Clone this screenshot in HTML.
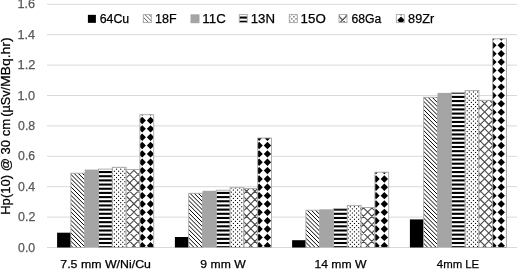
<!DOCTYPE html>
<html><head><meta charset="utf-8"><style>
html,body{margin:0;padding:0;background:#fff;width:517px;height:270px;overflow:hidden}
svg{display:block;filter:grayscale(100%)}
text{font-family:"Liberation Sans", sans-serif}
</style></head><body>
<svg width="517" height="270" viewBox="0 0 517 270" font-family="Liberation Sans, sans-serif">
<rect width="517" height="270" fill="#fff"/>
<line x1="47" x2="517" y1="247.50" y2="247.50" stroke="#d9d9d9" stroke-width="1"/><line x1="47" x2="517" y1="217.10" y2="217.10" stroke="#d9d9d9" stroke-width="1"/><line x1="47" x2="517" y1="186.70" y2="186.70" stroke="#d9d9d9" stroke-width="1"/><line x1="47" x2="517" y1="156.30" y2="156.30" stroke="#d9d9d9" stroke-width="1"/><line x1="47" x2="517" y1="125.90" y2="125.90" stroke="#d9d9d9" stroke-width="1"/><line x1="47" x2="517" y1="95.50" y2="95.50" stroke="#d9d9d9" stroke-width="1"/><line x1="47" x2="517" y1="65.10" y2="65.10" stroke="#d9d9d9" stroke-width="1"/><line x1="47" x2="517" y1="34.70" y2="34.70" stroke="#d9d9d9" stroke-width="1"/><line x1="47" x2="517" y1="4.30" y2="4.30" stroke="#d9d9d9" stroke-width="1"/>
<rect x="57.10" y="232.70" width="13.80" height="14.80" fill="#000000"/><clipPath id="c1"><rect x="70.90" y="173.20" width="13.80" height="74.30"/></clipPath><rect x="70.90" y="173.20" width="13.80" height="74.30" fill="#fff"/><g clip-path="url(#c1)" fill="#000"><path d="M-11.60 171.20L66.69 249.50M-7.43 171.20L70.86 249.50M-3.25 171.20L75.04 249.50M0.91 171.20L79.21 249.50M5.09 171.20L83.39 249.50M9.26 171.20L87.56 249.50M13.44 171.20L91.74 249.50M17.61 171.20L95.91 249.50M21.79 171.20L100.09 249.50M25.96 171.20L104.26 249.50M30.14 171.20L108.44 249.50M34.31 171.20L112.61 249.50M38.49 171.20L116.79 249.50M42.66 171.20L120.96 249.50M46.84 171.20L125.14 249.50M51.01 171.20L129.31 249.50M55.19 171.20L133.49 249.50M59.36 171.20L137.66 249.50M63.54 171.20L141.84 249.50M67.71 171.20L146.01 249.50M71.89 171.20L150.19 249.50M76.06 171.20L154.36 249.50M80.24 171.20L158.54 249.50M84.41 171.20L162.71 249.50M88.59 171.20L166.89 249.50" stroke="#000" stroke-width="1.00" fill="none"/></g><rect x="70.90" y="173.20" width="13.80" height="74.30" fill="none" stroke="#a6a6a6" stroke-width="0.9"/><rect x="84.70" y="169.60" width="13.80" height="77.90" fill="#a5a5a5"/><clipPath id="c2"><rect x="98.50" y="169.10" width="13.80" height="78.40"/></clipPath><rect x="98.50" y="169.10" width="13.80" height="78.40" fill="#fff"/><g clip-path="url(#c2)" fill="#000"><rect x="98.50" y="162.66" width="13.80" height="2.08"/><rect x="98.50" y="166.83" width="13.80" height="2.08"/><rect x="98.50" y="171.01" width="13.80" height="2.08"/><rect x="98.50" y="175.18" width="13.80" height="2.08"/><rect x="98.50" y="179.36" width="13.80" height="2.08"/><rect x="98.50" y="183.53" width="13.80" height="2.08"/><rect x="98.50" y="187.71" width="13.80" height="2.08"/><rect x="98.50" y="191.88" width="13.80" height="2.08"/><rect x="98.50" y="196.06" width="13.80" height="2.08"/><rect x="98.50" y="200.23" width="13.80" height="2.08"/><rect x="98.50" y="204.41" width="13.80" height="2.08"/><rect x="98.50" y="208.58" width="13.80" height="2.08"/><rect x="98.50" y="212.76" width="13.80" height="2.08"/><rect x="98.50" y="216.93" width="13.80" height="2.08"/><rect x="98.50" y="221.11" width="13.80" height="2.08"/><rect x="98.50" y="225.28" width="13.80" height="2.08"/><rect x="98.50" y="229.46" width="13.80" height="2.08"/><rect x="98.50" y="233.63" width="13.80" height="2.08"/><rect x="98.50" y="237.81" width="13.80" height="2.08"/><rect x="98.50" y="241.98" width="13.80" height="2.08"/><rect x="98.50" y="246.16" width="13.80" height="2.08"/><rect x="98.50" y="250.33" width="13.80" height="2.08"/></g><rect x="98.50" y="169.10" width="13.80" height="78.40" fill="none" stroke="#a6a6a6" stroke-width="0.9"/><clipPath id="c3"><rect x="112.30" y="167.30" width="13.80" height="80.20"/></clipPath><rect x="112.30" y="167.30" width="13.80" height="80.20" fill="#fff"/><g clip-path="url(#c3)" fill="#000"><rect x="107.60" y="160.30" width="1.10" height="1.10"/><rect x="109.68" y="162.38" width="1.10" height="1.10"/><rect x="111.77" y="160.30" width="1.10" height="1.10"/><rect x="113.86" y="162.38" width="1.10" height="1.10"/><rect x="115.95" y="160.30" width="1.10" height="1.10"/><rect x="118.03" y="162.38" width="1.10" height="1.10"/><rect x="120.12" y="160.30" width="1.10" height="1.10"/><rect x="122.21" y="162.38" width="1.10" height="1.10"/><rect x="124.30" y="160.30" width="1.10" height="1.10"/><rect x="126.38" y="162.38" width="1.10" height="1.10"/><rect x="128.47" y="160.30" width="1.10" height="1.10"/><rect x="130.56" y="162.38" width="1.10" height="1.10"/><rect x="107.60" y="164.47" width="1.10" height="1.10"/><rect x="109.68" y="166.56" width="1.10" height="1.10"/><rect x="111.77" y="164.47" width="1.10" height="1.10"/><rect x="113.86" y="166.56" width="1.10" height="1.10"/><rect x="115.95" y="164.47" width="1.10" height="1.10"/><rect x="118.03" y="166.56" width="1.10" height="1.10"/><rect x="120.12" y="164.47" width="1.10" height="1.10"/><rect x="122.21" y="166.56" width="1.10" height="1.10"/><rect x="124.30" y="164.47" width="1.10" height="1.10"/><rect x="126.38" y="166.56" width="1.10" height="1.10"/><rect x="128.47" y="164.47" width="1.10" height="1.10"/><rect x="130.56" y="166.56" width="1.10" height="1.10"/><rect x="107.60" y="168.65" width="1.10" height="1.10"/><rect x="109.68" y="170.73" width="1.10" height="1.10"/><rect x="111.77" y="168.65" width="1.10" height="1.10"/><rect x="113.86" y="170.73" width="1.10" height="1.10"/><rect x="115.95" y="168.65" width="1.10" height="1.10"/><rect x="118.03" y="170.73" width="1.10" height="1.10"/><rect x="120.12" y="168.65" width="1.10" height="1.10"/><rect x="122.21" y="170.73" width="1.10" height="1.10"/><rect x="124.30" y="168.65" width="1.10" height="1.10"/><rect x="126.38" y="170.73" width="1.10" height="1.10"/><rect x="128.47" y="168.65" width="1.10" height="1.10"/><rect x="130.56" y="170.73" width="1.10" height="1.10"/><rect x="107.60" y="172.82" width="1.10" height="1.10"/><rect x="109.68" y="174.91" width="1.10" height="1.10"/><rect x="111.77" y="172.82" width="1.10" height="1.10"/><rect x="113.86" y="174.91" width="1.10" height="1.10"/><rect x="115.95" y="172.82" width="1.10" height="1.10"/><rect x="118.03" y="174.91" width="1.10" height="1.10"/><rect x="120.12" y="172.82" width="1.10" height="1.10"/><rect x="122.21" y="174.91" width="1.10" height="1.10"/><rect x="124.30" y="172.82" width="1.10" height="1.10"/><rect x="126.38" y="174.91" width="1.10" height="1.10"/><rect x="128.47" y="172.82" width="1.10" height="1.10"/><rect x="130.56" y="174.91" width="1.10" height="1.10"/><rect x="107.60" y="177.00" width="1.10" height="1.10"/><rect x="109.68" y="179.08" width="1.10" height="1.10"/><rect x="111.77" y="177.00" width="1.10" height="1.10"/><rect x="113.86" y="179.08" width="1.10" height="1.10"/><rect x="115.95" y="177.00" width="1.10" height="1.10"/><rect x="118.03" y="179.08" width="1.10" height="1.10"/><rect x="120.12" y="177.00" width="1.10" height="1.10"/><rect x="122.21" y="179.08" width="1.10" height="1.10"/><rect x="124.30" y="177.00" width="1.10" height="1.10"/><rect x="126.38" y="179.08" width="1.10" height="1.10"/><rect x="128.47" y="177.00" width="1.10" height="1.10"/><rect x="130.56" y="179.08" width="1.10" height="1.10"/><rect x="107.60" y="181.17" width="1.10" height="1.10"/><rect x="109.68" y="183.26" width="1.10" height="1.10"/><rect x="111.77" y="181.17" width="1.10" height="1.10"/><rect x="113.86" y="183.26" width="1.10" height="1.10"/><rect x="115.95" y="181.17" width="1.10" height="1.10"/><rect x="118.03" y="183.26" width="1.10" height="1.10"/><rect x="120.12" y="181.17" width="1.10" height="1.10"/><rect x="122.21" y="183.26" width="1.10" height="1.10"/><rect x="124.30" y="181.17" width="1.10" height="1.10"/><rect x="126.38" y="183.26" width="1.10" height="1.10"/><rect x="128.47" y="181.17" width="1.10" height="1.10"/><rect x="130.56" y="183.26" width="1.10" height="1.10"/><rect x="107.60" y="185.35" width="1.10" height="1.10"/><rect x="109.68" y="187.43" width="1.10" height="1.10"/><rect x="111.77" y="185.35" width="1.10" height="1.10"/><rect x="113.86" y="187.43" width="1.10" height="1.10"/><rect x="115.95" y="185.35" width="1.10" height="1.10"/><rect x="118.03" y="187.43" width="1.10" height="1.10"/><rect x="120.12" y="185.35" width="1.10" height="1.10"/><rect x="122.21" y="187.43" width="1.10" height="1.10"/><rect x="124.30" y="185.35" width="1.10" height="1.10"/><rect x="126.38" y="187.43" width="1.10" height="1.10"/><rect x="128.47" y="185.35" width="1.10" height="1.10"/><rect x="130.56" y="187.43" width="1.10" height="1.10"/><rect x="107.60" y="189.52" width="1.10" height="1.10"/><rect x="109.68" y="191.61" width="1.10" height="1.10"/><rect x="111.77" y="189.52" width="1.10" height="1.10"/><rect x="113.86" y="191.61" width="1.10" height="1.10"/><rect x="115.95" y="189.52" width="1.10" height="1.10"/><rect x="118.03" y="191.61" width="1.10" height="1.10"/><rect x="120.12" y="189.52" width="1.10" height="1.10"/><rect x="122.21" y="191.61" width="1.10" height="1.10"/><rect x="124.30" y="189.52" width="1.10" height="1.10"/><rect x="126.38" y="191.61" width="1.10" height="1.10"/><rect x="128.47" y="189.52" width="1.10" height="1.10"/><rect x="130.56" y="191.61" width="1.10" height="1.10"/><rect x="107.60" y="193.70" width="1.10" height="1.10"/><rect x="109.68" y="195.78" width="1.10" height="1.10"/><rect x="111.77" y="193.70" width="1.10" height="1.10"/><rect x="113.86" y="195.78" width="1.10" height="1.10"/><rect x="115.95" y="193.70" width="1.10" height="1.10"/><rect x="118.03" y="195.78" width="1.10" height="1.10"/><rect x="120.12" y="193.70" width="1.10" height="1.10"/><rect x="122.21" y="195.78" width="1.10" height="1.10"/><rect x="124.30" y="193.70" width="1.10" height="1.10"/><rect x="126.38" y="195.78" width="1.10" height="1.10"/><rect x="128.47" y="193.70" width="1.10" height="1.10"/><rect x="130.56" y="195.78" width="1.10" height="1.10"/><rect x="107.60" y="197.87" width="1.10" height="1.10"/><rect x="109.68" y="199.96" width="1.10" height="1.10"/><rect x="111.77" y="197.87" width="1.10" height="1.10"/><rect x="113.86" y="199.96" width="1.10" height="1.10"/><rect x="115.95" y="197.87" width="1.10" height="1.10"/><rect x="118.03" y="199.96" width="1.10" height="1.10"/><rect x="120.12" y="197.87" width="1.10" height="1.10"/><rect x="122.21" y="199.96" width="1.10" height="1.10"/><rect x="124.30" y="197.87" width="1.10" height="1.10"/><rect x="126.38" y="199.96" width="1.10" height="1.10"/><rect x="128.47" y="197.87" width="1.10" height="1.10"/><rect x="130.56" y="199.96" width="1.10" height="1.10"/><rect x="107.60" y="202.05" width="1.10" height="1.10"/><rect x="109.68" y="204.13" width="1.10" height="1.10"/><rect x="111.77" y="202.05" width="1.10" height="1.10"/><rect x="113.86" y="204.13" width="1.10" height="1.10"/><rect x="115.95" y="202.05" width="1.10" height="1.10"/><rect x="118.03" y="204.13" width="1.10" height="1.10"/><rect x="120.12" y="202.05" width="1.10" height="1.10"/><rect x="122.21" y="204.13" width="1.10" height="1.10"/><rect x="124.30" y="202.05" width="1.10" height="1.10"/><rect x="126.38" y="204.13" width="1.10" height="1.10"/><rect x="128.47" y="202.05" width="1.10" height="1.10"/><rect x="130.56" y="204.13" width="1.10" height="1.10"/><rect x="107.60" y="206.22" width="1.10" height="1.10"/><rect x="109.68" y="208.31" width="1.10" height="1.10"/><rect x="111.77" y="206.22" width="1.10" height="1.10"/><rect x="113.86" y="208.31" width="1.10" height="1.10"/><rect x="115.95" y="206.22" width="1.10" height="1.10"/><rect x="118.03" y="208.31" width="1.10" height="1.10"/><rect x="120.12" y="206.22" width="1.10" height="1.10"/><rect x="122.21" y="208.31" width="1.10" height="1.10"/><rect x="124.30" y="206.22" width="1.10" height="1.10"/><rect x="126.38" y="208.31" width="1.10" height="1.10"/><rect x="128.47" y="206.22" width="1.10" height="1.10"/><rect x="130.56" y="208.31" width="1.10" height="1.10"/><rect x="107.60" y="210.40" width="1.10" height="1.10"/><rect x="109.68" y="212.48" width="1.10" height="1.10"/><rect x="111.77" y="210.40" width="1.10" height="1.10"/><rect x="113.86" y="212.48" width="1.10" height="1.10"/><rect x="115.95" y="210.40" width="1.10" height="1.10"/><rect x="118.03" y="212.48" width="1.10" height="1.10"/><rect x="120.12" y="210.40" width="1.10" height="1.10"/><rect x="122.21" y="212.48" width="1.10" height="1.10"/><rect x="124.30" y="210.40" width="1.10" height="1.10"/><rect x="126.38" y="212.48" width="1.10" height="1.10"/><rect x="128.47" y="210.40" width="1.10" height="1.10"/><rect x="130.56" y="212.48" width="1.10" height="1.10"/><rect x="107.60" y="214.57" width="1.10" height="1.10"/><rect x="109.68" y="216.66" width="1.10" height="1.10"/><rect x="111.77" y="214.57" width="1.10" height="1.10"/><rect x="113.86" y="216.66" width="1.10" height="1.10"/><rect x="115.95" y="214.57" width="1.10" height="1.10"/><rect x="118.03" y="216.66" width="1.10" height="1.10"/><rect x="120.12" y="214.57" width="1.10" height="1.10"/><rect x="122.21" y="216.66" width="1.10" height="1.10"/><rect x="124.30" y="214.57" width="1.10" height="1.10"/><rect x="126.38" y="216.66" width="1.10" height="1.10"/><rect x="128.47" y="214.57" width="1.10" height="1.10"/><rect x="130.56" y="216.66" width="1.10" height="1.10"/><rect x="107.60" y="218.75" width="1.10" height="1.10"/><rect x="109.68" y="220.83" width="1.10" height="1.10"/><rect x="111.77" y="218.75" width="1.10" height="1.10"/><rect x="113.86" y="220.83" width="1.10" height="1.10"/><rect x="115.95" y="218.75" width="1.10" height="1.10"/><rect x="118.03" y="220.83" width="1.10" height="1.10"/><rect x="120.12" y="218.75" width="1.10" height="1.10"/><rect x="122.21" y="220.83" width="1.10" height="1.10"/><rect x="124.30" y="218.75" width="1.10" height="1.10"/><rect x="126.38" y="220.83" width="1.10" height="1.10"/><rect x="128.47" y="218.75" width="1.10" height="1.10"/><rect x="130.56" y="220.83" width="1.10" height="1.10"/><rect x="107.60" y="222.92" width="1.10" height="1.10"/><rect x="109.68" y="225.01" width="1.10" height="1.10"/><rect x="111.77" y="222.92" width="1.10" height="1.10"/><rect x="113.86" y="225.01" width="1.10" height="1.10"/><rect x="115.95" y="222.92" width="1.10" height="1.10"/><rect x="118.03" y="225.01" width="1.10" height="1.10"/><rect x="120.12" y="222.92" width="1.10" height="1.10"/><rect x="122.21" y="225.01" width="1.10" height="1.10"/><rect x="124.30" y="222.92" width="1.10" height="1.10"/><rect x="126.38" y="225.01" width="1.10" height="1.10"/><rect x="128.47" y="222.92" width="1.10" height="1.10"/><rect x="130.56" y="225.01" width="1.10" height="1.10"/><rect x="107.60" y="227.10" width="1.10" height="1.10"/><rect x="109.68" y="229.18" width="1.10" height="1.10"/><rect x="111.77" y="227.10" width="1.10" height="1.10"/><rect x="113.86" y="229.18" width="1.10" height="1.10"/><rect x="115.95" y="227.10" width="1.10" height="1.10"/><rect x="118.03" y="229.18" width="1.10" height="1.10"/><rect x="120.12" y="227.10" width="1.10" height="1.10"/><rect x="122.21" y="229.18" width="1.10" height="1.10"/><rect x="124.30" y="227.10" width="1.10" height="1.10"/><rect x="126.38" y="229.18" width="1.10" height="1.10"/><rect x="128.47" y="227.10" width="1.10" height="1.10"/><rect x="130.56" y="229.18" width="1.10" height="1.10"/><rect x="107.60" y="231.27" width="1.10" height="1.10"/><rect x="109.68" y="233.36" width="1.10" height="1.10"/><rect x="111.77" y="231.27" width="1.10" height="1.10"/><rect x="113.86" y="233.36" width="1.10" height="1.10"/><rect x="115.95" y="231.27" width="1.10" height="1.10"/><rect x="118.03" y="233.36" width="1.10" height="1.10"/><rect x="120.12" y="231.27" width="1.10" height="1.10"/><rect x="122.21" y="233.36" width="1.10" height="1.10"/><rect x="124.30" y="231.27" width="1.10" height="1.10"/><rect x="126.38" y="233.36" width="1.10" height="1.10"/><rect x="128.47" y="231.27" width="1.10" height="1.10"/><rect x="130.56" y="233.36" width="1.10" height="1.10"/><rect x="107.60" y="235.45" width="1.10" height="1.10"/><rect x="109.68" y="237.53" width="1.10" height="1.10"/><rect x="111.77" y="235.45" width="1.10" height="1.10"/><rect x="113.86" y="237.53" width="1.10" height="1.10"/><rect x="115.95" y="235.45" width="1.10" height="1.10"/><rect x="118.03" y="237.53" width="1.10" height="1.10"/><rect x="120.12" y="235.45" width="1.10" height="1.10"/><rect x="122.21" y="237.53" width="1.10" height="1.10"/><rect x="124.30" y="235.45" width="1.10" height="1.10"/><rect x="126.38" y="237.53" width="1.10" height="1.10"/><rect x="128.47" y="235.45" width="1.10" height="1.10"/><rect x="130.56" y="237.53" width="1.10" height="1.10"/><rect x="107.60" y="239.62" width="1.10" height="1.10"/><rect x="109.68" y="241.71" width="1.10" height="1.10"/><rect x="111.77" y="239.62" width="1.10" height="1.10"/><rect x="113.86" y="241.71" width="1.10" height="1.10"/><rect x="115.95" y="239.62" width="1.10" height="1.10"/><rect x="118.03" y="241.71" width="1.10" height="1.10"/><rect x="120.12" y="239.62" width="1.10" height="1.10"/><rect x="122.21" y="241.71" width="1.10" height="1.10"/><rect x="124.30" y="239.62" width="1.10" height="1.10"/><rect x="126.38" y="241.71" width="1.10" height="1.10"/><rect x="128.47" y="239.62" width="1.10" height="1.10"/><rect x="130.56" y="241.71" width="1.10" height="1.10"/><rect x="107.60" y="243.80" width="1.10" height="1.10"/><rect x="109.68" y="245.88" width="1.10" height="1.10"/><rect x="111.77" y="243.80" width="1.10" height="1.10"/><rect x="113.86" y="245.88" width="1.10" height="1.10"/><rect x="115.95" y="243.80" width="1.10" height="1.10"/><rect x="118.03" y="245.88" width="1.10" height="1.10"/><rect x="120.12" y="243.80" width="1.10" height="1.10"/><rect x="122.21" y="245.88" width="1.10" height="1.10"/><rect x="124.30" y="243.80" width="1.10" height="1.10"/><rect x="126.38" y="245.88" width="1.10" height="1.10"/><rect x="128.47" y="243.80" width="1.10" height="1.10"/><rect x="130.56" y="245.88" width="1.10" height="1.10"/><rect x="107.60" y="247.97" width="1.10" height="1.10"/><rect x="109.68" y="250.06" width="1.10" height="1.10"/><rect x="111.77" y="247.97" width="1.10" height="1.10"/><rect x="113.86" y="250.06" width="1.10" height="1.10"/><rect x="115.95" y="247.97" width="1.10" height="1.10"/><rect x="118.03" y="250.06" width="1.10" height="1.10"/><rect x="120.12" y="247.97" width="1.10" height="1.10"/><rect x="122.21" y="250.06" width="1.10" height="1.10"/><rect x="124.30" y="247.97" width="1.10" height="1.10"/><rect x="126.38" y="250.06" width="1.10" height="1.10"/><rect x="128.47" y="247.97" width="1.10" height="1.10"/><rect x="130.56" y="250.06" width="1.10" height="1.10"/></g><rect x="112.30" y="167.30" width="13.80" height="80.20" fill="none" stroke="#a6a6a6" stroke-width="0.9"/><clipPath id="c4"><rect x="126.10" y="169.50" width="13.80" height="78.00"/></clipPath><rect x="126.10" y="169.50" width="13.80" height="78.00" fill="#fff"/><g clip-path="url(#c4)" fill="#000"><path d="M30.85 167.50L112.85 249.50M39.20 167.50L121.20 249.50M47.55 167.50L129.55 249.50M55.90 167.50L137.90 249.50M64.25 167.50L146.25 249.50M72.60 167.50L154.60 249.50M80.95 167.50L162.95 249.50M89.30 167.50L171.30 249.50M97.65 167.50L179.65 249.50M106.00 167.50L188.00 249.50M114.35 167.50L196.35 249.50M122.70 167.50L204.70 249.50M131.05 167.50L213.05 249.50M139.40 167.50L221.40 249.50M147.75 167.50L229.75 249.50M156.10 167.50L238.10 249.50M111.65 167.50L29.65 249.50M120.00 167.50L38.00 249.50M128.35 167.50L46.35 249.50M136.70 167.50L54.70 249.50M145.05 167.50L63.05 249.50M153.40 167.50L71.40 249.50M161.75 167.50L79.75 249.50M170.10 167.50L88.10 249.50M178.45 167.50L96.45 249.50M186.80 167.50L104.80 249.50M195.15 167.50L113.15 249.50M203.50 167.50L121.50 249.50M211.85 167.50L129.85 249.50M220.20 167.50L138.20 249.50M228.55 167.50L146.55 249.50M236.90 167.50L154.90 249.50" stroke="#4a4a4a" stroke-width="1.1" fill="none"/></g><rect x="126.10" y="169.50" width="13.80" height="78.00" fill="none" stroke="#a6a6a6" stroke-width="0.9"/><clipPath id="c5"><rect x="139.90" y="114.70" width="13.80" height="132.80"/></clipPath><rect x="139.90" y="114.70" width="13.80" height="132.80" fill="#fff"/><g clip-path="url(#c5)" fill="#000"><path d="M125.50 100.10L129.19 103.80L125.50 107.49L121.80 103.80ZM133.85 100.10L137.54 103.80L133.85 107.49L130.15 103.80ZM142.20 100.10L145.89 103.80L142.20 107.49L138.50 103.80ZM150.55 100.10L154.24 103.80L150.55 107.49L146.85 103.80ZM158.90 100.10L162.59 103.80L158.90 107.49L155.20 103.80ZM167.25 100.10L170.94 103.80L167.25 107.49L163.55 103.80ZM125.50 108.45L129.19 112.15L125.50 115.84L121.80 112.15ZM133.85 108.45L137.54 112.15L133.85 115.84L130.15 112.15ZM142.20 108.45L145.89 112.15L142.20 115.84L138.50 112.15ZM150.55 108.45L154.24 112.15L150.55 115.84L146.85 112.15ZM158.90 108.45L162.59 112.15L158.90 115.84L155.20 112.15ZM167.25 108.45L170.94 112.15L167.25 115.84L163.55 112.15ZM125.50 116.80L129.19 120.50L125.50 124.19L121.80 120.50ZM133.85 116.80L137.54 120.50L133.85 124.19L130.15 120.50ZM142.20 116.80L145.89 120.50L142.20 124.19L138.50 120.50ZM150.55 116.80L154.24 120.50L150.55 124.19L146.85 120.50ZM158.90 116.80L162.59 120.50L158.90 124.19L155.20 120.50ZM167.25 116.80L170.94 120.50L167.25 124.19L163.55 120.50ZM125.50 125.15L129.19 128.85L125.50 132.54L121.80 128.85ZM133.85 125.15L137.54 128.85L133.85 132.54L130.15 128.85ZM142.20 125.15L145.89 128.85L142.20 132.54L138.50 128.85ZM150.55 125.15L154.24 128.85L150.55 132.54L146.85 128.85ZM158.90 125.15L162.59 128.85L158.90 132.54L155.20 128.85ZM167.25 125.15L170.94 128.85L167.25 132.54L163.55 128.85ZM125.50 133.50L129.19 137.20L125.50 140.89L121.80 137.20ZM133.85 133.50L137.54 137.20L133.85 140.89L130.15 137.20ZM142.20 133.50L145.89 137.20L142.20 140.89L138.50 137.20ZM150.55 133.50L154.24 137.20L150.55 140.89L146.85 137.20ZM158.90 133.50L162.59 137.20L158.90 140.89L155.20 137.20ZM167.25 133.50L170.94 137.20L167.25 140.89L163.55 137.20ZM125.50 141.85L129.19 145.55L125.50 149.24L121.80 145.55ZM133.85 141.85L137.54 145.55L133.85 149.24L130.15 145.55ZM142.20 141.85L145.89 145.55L142.20 149.24L138.50 145.55ZM150.55 141.85L154.24 145.55L150.55 149.24L146.85 145.55ZM158.90 141.85L162.59 145.55L158.90 149.24L155.20 145.55ZM167.25 141.85L170.94 145.55L167.25 149.24L163.55 145.55ZM125.50 150.20L129.19 153.90L125.50 157.59L121.80 153.90ZM133.85 150.20L137.54 153.90L133.85 157.59L130.15 153.90ZM142.20 150.20L145.89 153.90L142.20 157.59L138.50 153.90ZM150.55 150.20L154.24 153.90L150.55 157.59L146.85 153.90ZM158.90 150.20L162.59 153.90L158.90 157.59L155.20 153.90ZM167.25 150.20L170.94 153.90L167.25 157.59L163.55 153.90ZM125.50 158.55L129.19 162.25L125.50 165.94L121.80 162.25ZM133.85 158.55L137.54 162.25L133.85 165.94L130.15 162.25ZM142.20 158.55L145.89 162.25L142.20 165.94L138.50 162.25ZM150.55 158.55L154.24 162.25L150.55 165.94L146.85 162.25ZM158.90 158.55L162.59 162.25L158.90 165.94L155.20 162.25ZM167.25 158.55L170.94 162.25L167.25 165.94L163.55 162.25ZM125.50 166.90L129.19 170.60L125.50 174.29L121.80 170.60ZM133.85 166.90L137.54 170.60L133.85 174.29L130.15 170.60ZM142.20 166.90L145.89 170.60L142.20 174.29L138.50 170.60ZM150.55 166.90L154.24 170.60L150.55 174.29L146.85 170.60ZM158.90 166.90L162.59 170.60L158.90 174.29L155.20 170.60ZM167.25 166.90L170.94 170.60L167.25 174.29L163.55 170.60ZM125.50 175.25L129.19 178.95L125.50 182.64L121.80 178.95ZM133.85 175.25L137.54 178.95L133.85 182.64L130.15 178.95ZM142.20 175.25L145.89 178.95L142.20 182.64L138.50 178.95ZM150.55 175.25L154.24 178.95L150.55 182.64L146.85 178.95ZM158.90 175.25L162.59 178.95L158.90 182.64L155.20 178.95ZM167.25 175.25L170.94 178.95L167.25 182.64L163.55 178.95ZM125.50 183.60L129.19 187.30L125.50 190.99L121.80 187.30ZM133.85 183.60L137.54 187.30L133.85 190.99L130.15 187.30ZM142.20 183.60L145.89 187.30L142.20 190.99L138.50 187.30ZM150.55 183.60L154.24 187.30L150.55 190.99L146.85 187.30ZM158.90 183.60L162.59 187.30L158.90 190.99L155.20 187.30ZM167.25 183.60L170.94 187.30L167.25 190.99L163.55 187.30ZM125.50 191.95L129.19 195.65L125.50 199.34L121.80 195.65ZM133.85 191.95L137.54 195.65L133.85 199.34L130.15 195.65ZM142.20 191.95L145.89 195.65L142.20 199.34L138.50 195.65ZM150.55 191.95L154.24 195.65L150.55 199.34L146.85 195.65ZM158.90 191.95L162.59 195.65L158.90 199.34L155.20 195.65ZM167.25 191.95L170.94 195.65L167.25 199.34L163.55 195.65ZM125.50 200.30L129.19 204.00L125.50 207.69L121.80 204.00ZM133.85 200.30L137.54 204.00L133.85 207.69L130.15 204.00ZM142.20 200.30L145.89 204.00L142.20 207.69L138.50 204.00ZM150.55 200.30L154.24 204.00L150.55 207.69L146.85 204.00ZM158.90 200.30L162.59 204.00L158.90 207.69L155.20 204.00ZM167.25 200.30L170.94 204.00L167.25 207.69L163.55 204.00ZM125.50 208.65L129.19 212.35L125.50 216.04L121.80 212.35ZM133.85 208.65L137.54 212.35L133.85 216.04L130.15 212.35ZM142.20 208.65L145.89 212.35L142.20 216.04L138.50 212.35ZM150.55 208.65L154.24 212.35L150.55 216.04L146.85 212.35ZM158.90 208.65L162.59 212.35L158.90 216.04L155.20 212.35ZM167.25 208.65L170.94 212.35L167.25 216.04L163.55 212.35ZM125.50 217.00L129.19 220.70L125.50 224.39L121.80 220.70ZM133.85 217.00L137.54 220.70L133.85 224.39L130.15 220.70ZM142.20 217.00L145.89 220.70L142.20 224.39L138.50 220.70ZM150.55 217.00L154.24 220.70L150.55 224.39L146.85 220.70ZM158.90 217.00L162.59 220.70L158.90 224.39L155.20 220.70ZM167.25 217.00L170.94 220.70L167.25 224.39L163.55 220.70ZM125.50 225.35L129.19 229.05L125.50 232.74L121.80 229.05ZM133.85 225.35L137.54 229.05L133.85 232.74L130.15 229.05ZM142.20 225.35L145.89 229.05L142.20 232.74L138.50 229.05ZM150.55 225.35L154.24 229.05L150.55 232.74L146.85 229.05ZM158.90 225.35L162.59 229.05L158.90 232.74L155.20 229.05ZM167.25 225.35L170.94 229.05L167.25 232.74L163.55 229.05ZM125.50 233.70L129.19 237.40L125.50 241.09L121.80 237.40ZM133.85 233.70L137.54 237.40L133.85 241.09L130.15 237.40ZM142.20 233.70L145.89 237.40L142.20 241.09L138.50 237.40ZM150.55 233.70L154.24 237.40L150.55 241.09L146.85 237.40ZM158.90 233.70L162.59 237.40L158.90 241.09L155.20 237.40ZM167.25 233.70L170.94 237.40L167.25 241.09L163.55 237.40ZM125.50 242.05L129.19 245.75L125.50 249.44L121.80 245.75ZM133.85 242.05L137.54 245.75L133.85 249.44L130.15 245.75ZM142.20 242.05L145.89 245.75L142.20 249.44L138.50 245.75ZM150.55 242.05L154.24 245.75L150.55 249.44L146.85 245.75ZM158.90 242.05L162.59 245.75L158.90 249.44L155.20 245.75ZM167.25 242.05L170.94 245.75L167.25 249.44L163.55 245.75ZM125.50 250.40L129.19 254.10L125.50 257.79L121.80 254.10ZM133.85 250.40L137.54 254.10L133.85 257.79L130.15 254.10ZM142.20 250.40L145.89 254.10L142.20 257.79L138.50 254.10ZM150.55 250.40L154.24 254.10L150.55 257.79L146.85 254.10ZM158.90 250.40L162.59 254.10L158.90 257.79L155.20 254.10ZM167.25 250.40L170.94 254.10L167.25 257.79L163.55 254.10ZM125.50 258.75L129.19 262.45L125.50 266.14L121.80 262.45ZM133.85 258.75L137.54 262.45L133.85 266.14L130.15 262.45ZM142.20 258.75L145.89 262.45L142.20 266.14L138.50 262.45ZM150.55 258.75L154.24 262.45L150.55 266.14L146.85 262.45ZM158.90 258.75L162.59 262.45L158.90 266.14L155.20 262.45ZM167.25 258.75L170.94 262.45L167.25 266.14L163.55 262.45Z"/></g><rect x="139.90" y="114.70" width="13.80" height="132.80" fill="none" stroke="#a6a6a6" stroke-width="0.9"/><rect x="174.90" y="237.00" width="13.80" height="10.50" fill="#000000"/><clipPath id="c6"><rect x="188.70" y="193.30" width="13.80" height="54.20"/></clipPath><rect x="188.70" y="193.30" width="13.80" height="54.20" fill="#fff"/><g clip-path="url(#c6)" fill="#000"><path d="M125.39 191.30L183.59 249.50M129.56 191.30L187.76 249.50M133.74 191.30L191.94 249.50M137.91 191.30L196.11 249.50M142.09 191.30L200.29 249.50M146.26 191.30L204.46 249.50M150.44 191.30L208.64 249.50M154.61 191.30L212.81 249.50M158.79 191.30L216.99 249.50M162.96 191.30L221.16 249.50M167.14 191.30L225.34 249.50M171.31 191.30L229.51 249.50M175.49 191.30L233.69 249.50M179.66 191.30L237.86 249.50M183.84 191.30L242.04 249.50M188.01 191.30L246.21 249.50M192.19 191.30L250.39 249.50M196.36 191.30L254.56 249.50M200.54 191.30L258.74 249.50M204.71 191.30L262.91 249.50" stroke="#000" stroke-width="1.00" fill="none"/></g><rect x="188.70" y="193.30" width="13.80" height="54.20" fill="none" stroke="#a6a6a6" stroke-width="0.9"/><rect x="202.50" y="190.80" width="13.80" height="56.70" fill="#a5a5a5"/><clipPath id="c7"><rect x="216.30" y="190.20" width="13.80" height="57.30"/></clipPath><rect x="216.30" y="190.20" width="13.80" height="57.30" fill="#fff"/><g clip-path="url(#c7)" fill="#000"><rect x="216.30" y="183.53" width="13.80" height="2.08"/><rect x="216.30" y="187.71" width="13.80" height="2.08"/><rect x="216.30" y="191.88" width="13.80" height="2.08"/><rect x="216.30" y="196.06" width="13.80" height="2.08"/><rect x="216.30" y="200.23" width="13.80" height="2.08"/><rect x="216.30" y="204.41" width="13.80" height="2.08"/><rect x="216.30" y="208.58" width="13.80" height="2.08"/><rect x="216.30" y="212.76" width="13.80" height="2.08"/><rect x="216.30" y="216.93" width="13.80" height="2.08"/><rect x="216.30" y="221.11" width="13.80" height="2.08"/><rect x="216.30" y="225.28" width="13.80" height="2.08"/><rect x="216.30" y="229.46" width="13.80" height="2.08"/><rect x="216.30" y="233.63" width="13.80" height="2.08"/><rect x="216.30" y="237.81" width="13.80" height="2.08"/><rect x="216.30" y="241.98" width="13.80" height="2.08"/><rect x="216.30" y="246.16" width="13.80" height="2.08"/><rect x="216.30" y="250.33" width="13.80" height="2.08"/></g><rect x="216.30" y="190.20" width="13.80" height="57.30" fill="none" stroke="#a6a6a6" stroke-width="0.9"/><clipPath id="c8"><rect x="230.10" y="187.70" width="13.80" height="59.80"/></clipPath><rect x="230.10" y="187.70" width="13.80" height="59.80" fill="#fff"/><g clip-path="url(#c8)" fill="#000"><rect x="224.50" y="181.17" width="1.10" height="1.10"/><rect x="226.58" y="183.26" width="1.10" height="1.10"/><rect x="228.67" y="181.17" width="1.10" height="1.10"/><rect x="230.76" y="183.26" width="1.10" height="1.10"/><rect x="232.85" y="181.17" width="1.10" height="1.10"/><rect x="234.93" y="183.26" width="1.10" height="1.10"/><rect x="237.02" y="181.17" width="1.10" height="1.10"/><rect x="239.11" y="183.26" width="1.10" height="1.10"/><rect x="241.20" y="181.17" width="1.10" height="1.10"/><rect x="243.28" y="183.26" width="1.10" height="1.10"/><rect x="245.37" y="181.17" width="1.10" height="1.10"/><rect x="247.46" y="183.26" width="1.10" height="1.10"/><rect x="224.50" y="185.35" width="1.10" height="1.10"/><rect x="226.58" y="187.43" width="1.10" height="1.10"/><rect x="228.67" y="185.35" width="1.10" height="1.10"/><rect x="230.76" y="187.43" width="1.10" height="1.10"/><rect x="232.85" y="185.35" width="1.10" height="1.10"/><rect x="234.93" y="187.43" width="1.10" height="1.10"/><rect x="237.02" y="185.35" width="1.10" height="1.10"/><rect x="239.11" y="187.43" width="1.10" height="1.10"/><rect x="241.20" y="185.35" width="1.10" height="1.10"/><rect x="243.28" y="187.43" width="1.10" height="1.10"/><rect x="245.37" y="185.35" width="1.10" height="1.10"/><rect x="247.46" y="187.43" width="1.10" height="1.10"/><rect x="224.50" y="189.52" width="1.10" height="1.10"/><rect x="226.58" y="191.61" width="1.10" height="1.10"/><rect x="228.67" y="189.52" width="1.10" height="1.10"/><rect x="230.76" y="191.61" width="1.10" height="1.10"/><rect x="232.85" y="189.52" width="1.10" height="1.10"/><rect x="234.93" y="191.61" width="1.10" height="1.10"/><rect x="237.02" y="189.52" width="1.10" height="1.10"/><rect x="239.11" y="191.61" width="1.10" height="1.10"/><rect x="241.20" y="189.52" width="1.10" height="1.10"/><rect x="243.28" y="191.61" width="1.10" height="1.10"/><rect x="245.37" y="189.52" width="1.10" height="1.10"/><rect x="247.46" y="191.61" width="1.10" height="1.10"/><rect x="224.50" y="193.70" width="1.10" height="1.10"/><rect x="226.58" y="195.78" width="1.10" height="1.10"/><rect x="228.67" y="193.70" width="1.10" height="1.10"/><rect x="230.76" y="195.78" width="1.10" height="1.10"/><rect x="232.85" y="193.70" width="1.10" height="1.10"/><rect x="234.93" y="195.78" width="1.10" height="1.10"/><rect x="237.02" y="193.70" width="1.10" height="1.10"/><rect x="239.11" y="195.78" width="1.10" height="1.10"/><rect x="241.20" y="193.70" width="1.10" height="1.10"/><rect x="243.28" y="195.78" width="1.10" height="1.10"/><rect x="245.37" y="193.70" width="1.10" height="1.10"/><rect x="247.46" y="195.78" width="1.10" height="1.10"/><rect x="224.50" y="197.87" width="1.10" height="1.10"/><rect x="226.58" y="199.96" width="1.10" height="1.10"/><rect x="228.67" y="197.87" width="1.10" height="1.10"/><rect x="230.76" y="199.96" width="1.10" height="1.10"/><rect x="232.85" y="197.87" width="1.10" height="1.10"/><rect x="234.93" y="199.96" width="1.10" height="1.10"/><rect x="237.02" y="197.87" width="1.10" height="1.10"/><rect x="239.11" y="199.96" width="1.10" height="1.10"/><rect x="241.20" y="197.87" width="1.10" height="1.10"/><rect x="243.28" y="199.96" width="1.10" height="1.10"/><rect x="245.37" y="197.87" width="1.10" height="1.10"/><rect x="247.46" y="199.96" width="1.10" height="1.10"/><rect x="224.50" y="202.05" width="1.10" height="1.10"/><rect x="226.58" y="204.13" width="1.10" height="1.10"/><rect x="228.67" y="202.05" width="1.10" height="1.10"/><rect x="230.76" y="204.13" width="1.10" height="1.10"/><rect x="232.85" y="202.05" width="1.10" height="1.10"/><rect x="234.93" y="204.13" width="1.10" height="1.10"/><rect x="237.02" y="202.05" width="1.10" height="1.10"/><rect x="239.11" y="204.13" width="1.10" height="1.10"/><rect x="241.20" y="202.05" width="1.10" height="1.10"/><rect x="243.28" y="204.13" width="1.10" height="1.10"/><rect x="245.37" y="202.05" width="1.10" height="1.10"/><rect x="247.46" y="204.13" width="1.10" height="1.10"/><rect x="224.50" y="206.22" width="1.10" height="1.10"/><rect x="226.58" y="208.31" width="1.10" height="1.10"/><rect x="228.67" y="206.22" width="1.10" height="1.10"/><rect x="230.76" y="208.31" width="1.10" height="1.10"/><rect x="232.85" y="206.22" width="1.10" height="1.10"/><rect x="234.93" y="208.31" width="1.10" height="1.10"/><rect x="237.02" y="206.22" width="1.10" height="1.10"/><rect x="239.11" y="208.31" width="1.10" height="1.10"/><rect x="241.20" y="206.22" width="1.10" height="1.10"/><rect x="243.28" y="208.31" width="1.10" height="1.10"/><rect x="245.37" y="206.22" width="1.10" height="1.10"/><rect x="247.46" y="208.31" width="1.10" height="1.10"/><rect x="224.50" y="210.40" width="1.10" height="1.10"/><rect x="226.58" y="212.48" width="1.10" height="1.10"/><rect x="228.67" y="210.40" width="1.10" height="1.10"/><rect x="230.76" y="212.48" width="1.10" height="1.10"/><rect x="232.85" y="210.40" width="1.10" height="1.10"/><rect x="234.93" y="212.48" width="1.10" height="1.10"/><rect x="237.02" y="210.40" width="1.10" height="1.10"/><rect x="239.11" y="212.48" width="1.10" height="1.10"/><rect x="241.20" y="210.40" width="1.10" height="1.10"/><rect x="243.28" y="212.48" width="1.10" height="1.10"/><rect x="245.37" y="210.40" width="1.10" height="1.10"/><rect x="247.46" y="212.48" width="1.10" height="1.10"/><rect x="224.50" y="214.57" width="1.10" height="1.10"/><rect x="226.58" y="216.66" width="1.10" height="1.10"/><rect x="228.67" y="214.57" width="1.10" height="1.10"/><rect x="230.76" y="216.66" width="1.10" height="1.10"/><rect x="232.85" y="214.57" width="1.10" height="1.10"/><rect x="234.93" y="216.66" width="1.10" height="1.10"/><rect x="237.02" y="214.57" width="1.10" height="1.10"/><rect x="239.11" y="216.66" width="1.10" height="1.10"/><rect x="241.20" y="214.57" width="1.10" height="1.10"/><rect x="243.28" y="216.66" width="1.10" height="1.10"/><rect x="245.37" y="214.57" width="1.10" height="1.10"/><rect x="247.46" y="216.66" width="1.10" height="1.10"/><rect x="224.50" y="218.75" width="1.10" height="1.10"/><rect x="226.58" y="220.83" width="1.10" height="1.10"/><rect x="228.67" y="218.75" width="1.10" height="1.10"/><rect x="230.76" y="220.83" width="1.10" height="1.10"/><rect x="232.85" y="218.75" width="1.10" height="1.10"/><rect x="234.93" y="220.83" width="1.10" height="1.10"/><rect x="237.02" y="218.75" width="1.10" height="1.10"/><rect x="239.11" y="220.83" width="1.10" height="1.10"/><rect x="241.20" y="218.75" width="1.10" height="1.10"/><rect x="243.28" y="220.83" width="1.10" height="1.10"/><rect x="245.37" y="218.75" width="1.10" height="1.10"/><rect x="247.46" y="220.83" width="1.10" height="1.10"/><rect x="224.50" y="222.92" width="1.10" height="1.10"/><rect x="226.58" y="225.01" width="1.10" height="1.10"/><rect x="228.67" y="222.92" width="1.10" height="1.10"/><rect x="230.76" y="225.01" width="1.10" height="1.10"/><rect x="232.85" y="222.92" width="1.10" height="1.10"/><rect x="234.93" y="225.01" width="1.10" height="1.10"/><rect x="237.02" y="222.92" width="1.10" height="1.10"/><rect x="239.11" y="225.01" width="1.10" height="1.10"/><rect x="241.20" y="222.92" width="1.10" height="1.10"/><rect x="243.28" y="225.01" width="1.10" height="1.10"/><rect x="245.37" y="222.92" width="1.10" height="1.10"/><rect x="247.46" y="225.01" width="1.10" height="1.10"/><rect x="224.50" y="227.10" width="1.10" height="1.10"/><rect x="226.58" y="229.18" width="1.10" height="1.10"/><rect x="228.67" y="227.10" width="1.10" height="1.10"/><rect x="230.76" y="229.18" width="1.10" height="1.10"/><rect x="232.85" y="227.10" width="1.10" height="1.10"/><rect x="234.93" y="229.18" width="1.10" height="1.10"/><rect x="237.02" y="227.10" width="1.10" height="1.10"/><rect x="239.11" y="229.18" width="1.10" height="1.10"/><rect x="241.20" y="227.10" width="1.10" height="1.10"/><rect x="243.28" y="229.18" width="1.10" height="1.10"/><rect x="245.37" y="227.10" width="1.10" height="1.10"/><rect x="247.46" y="229.18" width="1.10" height="1.10"/><rect x="224.50" y="231.27" width="1.10" height="1.10"/><rect x="226.58" y="233.36" width="1.10" height="1.10"/><rect x="228.67" y="231.27" width="1.10" height="1.10"/><rect x="230.76" y="233.36" width="1.10" height="1.10"/><rect x="232.85" y="231.27" width="1.10" height="1.10"/><rect x="234.93" y="233.36" width="1.10" height="1.10"/><rect x="237.02" y="231.27" width="1.10" height="1.10"/><rect x="239.11" y="233.36" width="1.10" height="1.10"/><rect x="241.20" y="231.27" width="1.10" height="1.10"/><rect x="243.28" y="233.36" width="1.10" height="1.10"/><rect x="245.37" y="231.27" width="1.10" height="1.10"/><rect x="247.46" y="233.36" width="1.10" height="1.10"/><rect x="224.50" y="235.45" width="1.10" height="1.10"/><rect x="226.58" y="237.53" width="1.10" height="1.10"/><rect x="228.67" y="235.45" width="1.10" height="1.10"/><rect x="230.76" y="237.53" width="1.10" height="1.10"/><rect x="232.85" y="235.45" width="1.10" height="1.10"/><rect x="234.93" y="237.53" width="1.10" height="1.10"/><rect x="237.02" y="235.45" width="1.10" height="1.10"/><rect x="239.11" y="237.53" width="1.10" height="1.10"/><rect x="241.20" y="235.45" width="1.10" height="1.10"/><rect x="243.28" y="237.53" width="1.10" height="1.10"/><rect x="245.37" y="235.45" width="1.10" height="1.10"/><rect x="247.46" y="237.53" width="1.10" height="1.10"/><rect x="224.50" y="239.62" width="1.10" height="1.10"/><rect x="226.58" y="241.71" width="1.10" height="1.10"/><rect x="228.67" y="239.62" width="1.10" height="1.10"/><rect x="230.76" y="241.71" width="1.10" height="1.10"/><rect x="232.85" y="239.62" width="1.10" height="1.10"/><rect x="234.93" y="241.71" width="1.10" height="1.10"/><rect x="237.02" y="239.62" width="1.10" height="1.10"/><rect x="239.11" y="241.71" width="1.10" height="1.10"/><rect x="241.20" y="239.62" width="1.10" height="1.10"/><rect x="243.28" y="241.71" width="1.10" height="1.10"/><rect x="245.37" y="239.62" width="1.10" height="1.10"/><rect x="247.46" y="241.71" width="1.10" height="1.10"/><rect x="224.50" y="243.80" width="1.10" height="1.10"/><rect x="226.58" y="245.88" width="1.10" height="1.10"/><rect x="228.67" y="243.80" width="1.10" height="1.10"/><rect x="230.76" y="245.88" width="1.10" height="1.10"/><rect x="232.85" y="243.80" width="1.10" height="1.10"/><rect x="234.93" y="245.88" width="1.10" height="1.10"/><rect x="237.02" y="243.80" width="1.10" height="1.10"/><rect x="239.11" y="245.88" width="1.10" height="1.10"/><rect x="241.20" y="243.80" width="1.10" height="1.10"/><rect x="243.28" y="245.88" width="1.10" height="1.10"/><rect x="245.37" y="243.80" width="1.10" height="1.10"/><rect x="247.46" y="245.88" width="1.10" height="1.10"/><rect x="224.50" y="247.97" width="1.10" height="1.10"/><rect x="226.58" y="250.06" width="1.10" height="1.10"/><rect x="228.67" y="247.97" width="1.10" height="1.10"/><rect x="230.76" y="250.06" width="1.10" height="1.10"/><rect x="232.85" y="247.97" width="1.10" height="1.10"/><rect x="234.93" y="250.06" width="1.10" height="1.10"/><rect x="237.02" y="247.97" width="1.10" height="1.10"/><rect x="239.11" y="250.06" width="1.10" height="1.10"/><rect x="241.20" y="247.97" width="1.10" height="1.10"/><rect x="243.28" y="250.06" width="1.10" height="1.10"/><rect x="245.37" y="247.97" width="1.10" height="1.10"/><rect x="247.46" y="250.06" width="1.10" height="1.10"/></g><rect x="230.10" y="187.70" width="13.80" height="59.80" fill="none" stroke="#a6a6a6" stroke-width="0.9"/><clipPath id="c9"><rect x="243.90" y="188.40" width="13.80" height="59.10"/></clipPath><rect x="243.90" y="188.40" width="13.80" height="59.10" fill="#fff"/><g clip-path="url(#c9)" fill="#000"><path d="M166.65 186.40L229.75 249.50M175.00 186.40L238.10 249.50M183.35 186.40L246.45 249.50M191.70 186.40L254.80 249.50M200.05 186.40L263.15 249.50M208.40 186.40L271.50 249.50M216.75 186.40L279.85 249.50M225.10 186.40L288.20 249.50M233.45 186.40L296.55 249.50M241.80 186.40L304.90 249.50M250.15 186.40L313.25 249.50M258.50 186.40L321.60 249.50M266.85 186.40L329.95 249.50M234.70 186.40L171.60 249.50M243.05 186.40L179.95 249.50M251.40 186.40L188.30 249.50M259.75 186.40L196.65 249.50M268.10 186.40L205.00 249.50M276.45 186.40L213.35 249.50M284.80 186.40L221.70 249.50M293.15 186.40L230.05 249.50M301.50 186.40L238.40 249.50M309.85 186.40L246.75 249.50M318.20 186.40L255.10 249.50M326.55 186.40L263.45 249.50M334.90 186.40L271.80 249.50" stroke="#4a4a4a" stroke-width="1.1" fill="none"/></g><rect x="243.90" y="188.40" width="13.80" height="59.10" fill="none" stroke="#a6a6a6" stroke-width="0.9"/><clipPath id="c10"><rect x="257.70" y="138.00" width="13.80" height="109.50"/></clipPath><rect x="257.70" y="138.00" width="13.80" height="109.50" fill="#fff"/><g clip-path="url(#c10)" fill="#000"><path d="M242.40 125.15L246.09 128.85L242.40 132.54L238.70 128.85ZM250.75 125.15L254.44 128.85L250.75 132.54L247.05 128.85ZM259.10 125.15L262.79 128.85L259.10 132.54L255.40 128.85ZM267.45 125.15L271.14 128.85L267.45 132.54L263.75 128.85ZM275.80 125.15L279.49 128.85L275.80 132.54L272.10 128.85ZM284.15 125.15L287.84 128.85L284.15 132.54L280.45 128.85ZM242.40 133.50L246.09 137.20L242.40 140.89L238.70 137.20ZM250.75 133.50L254.44 137.20L250.75 140.89L247.05 137.20ZM259.10 133.50L262.79 137.20L259.10 140.89L255.40 137.20ZM267.45 133.50L271.14 137.20L267.45 140.89L263.75 137.20ZM275.80 133.50L279.49 137.20L275.80 140.89L272.10 137.20ZM284.15 133.50L287.84 137.20L284.15 140.89L280.45 137.20ZM242.40 141.85L246.09 145.55L242.40 149.24L238.70 145.55ZM250.75 141.85L254.44 145.55L250.75 149.24L247.05 145.55ZM259.10 141.85L262.79 145.55L259.10 149.24L255.40 145.55ZM267.45 141.85L271.14 145.55L267.45 149.24L263.75 145.55ZM275.80 141.85L279.49 145.55L275.80 149.24L272.10 145.55ZM284.15 141.85L287.84 145.55L284.15 149.24L280.45 145.55ZM242.40 150.20L246.09 153.90L242.40 157.59L238.70 153.90ZM250.75 150.20L254.44 153.90L250.75 157.59L247.05 153.90ZM259.10 150.20L262.79 153.90L259.10 157.59L255.40 153.90ZM267.45 150.20L271.14 153.90L267.45 157.59L263.75 153.90ZM275.80 150.20L279.49 153.90L275.80 157.59L272.10 153.90ZM284.15 150.20L287.84 153.90L284.15 157.59L280.45 153.90ZM242.40 158.55L246.09 162.25L242.40 165.94L238.70 162.25ZM250.75 158.55L254.44 162.25L250.75 165.94L247.05 162.25ZM259.10 158.55L262.79 162.25L259.10 165.94L255.40 162.25ZM267.45 158.55L271.14 162.25L267.45 165.94L263.75 162.25ZM275.80 158.55L279.49 162.25L275.80 165.94L272.10 162.25ZM284.15 158.55L287.84 162.25L284.15 165.94L280.45 162.25ZM242.40 166.90L246.09 170.60L242.40 174.29L238.70 170.60ZM250.75 166.90L254.44 170.60L250.75 174.29L247.05 170.60ZM259.10 166.90L262.79 170.60L259.10 174.29L255.40 170.60ZM267.45 166.90L271.14 170.60L267.45 174.29L263.75 170.60ZM275.80 166.90L279.49 170.60L275.80 174.29L272.10 170.60ZM284.15 166.90L287.84 170.60L284.15 174.29L280.45 170.60ZM242.40 175.25L246.09 178.95L242.40 182.64L238.70 178.95ZM250.75 175.25L254.44 178.95L250.75 182.64L247.05 178.95ZM259.10 175.25L262.79 178.95L259.10 182.64L255.40 178.95ZM267.45 175.25L271.14 178.95L267.45 182.64L263.75 178.95ZM275.80 175.25L279.49 178.95L275.80 182.64L272.10 178.95ZM284.15 175.25L287.84 178.95L284.15 182.64L280.45 178.95ZM242.40 183.60L246.09 187.30L242.40 190.99L238.70 187.30ZM250.75 183.60L254.44 187.30L250.75 190.99L247.05 187.30ZM259.10 183.60L262.79 187.30L259.10 190.99L255.40 187.30ZM267.45 183.60L271.14 187.30L267.45 190.99L263.75 187.30ZM275.80 183.60L279.49 187.30L275.80 190.99L272.10 187.30ZM284.15 183.60L287.84 187.30L284.15 190.99L280.45 187.30ZM242.40 191.95L246.09 195.65L242.40 199.34L238.70 195.65ZM250.75 191.95L254.44 195.65L250.75 199.34L247.05 195.65ZM259.10 191.95L262.79 195.65L259.10 199.34L255.40 195.65ZM267.45 191.95L271.14 195.65L267.45 199.34L263.75 195.65ZM275.80 191.95L279.49 195.65L275.80 199.34L272.10 195.65ZM284.15 191.95L287.84 195.65L284.15 199.34L280.45 195.65ZM242.40 200.30L246.09 204.00L242.40 207.69L238.70 204.00ZM250.75 200.30L254.44 204.00L250.75 207.69L247.05 204.00ZM259.10 200.30L262.79 204.00L259.10 207.69L255.40 204.00ZM267.45 200.30L271.14 204.00L267.45 207.69L263.75 204.00ZM275.80 200.30L279.49 204.00L275.80 207.69L272.10 204.00ZM284.15 200.30L287.84 204.00L284.15 207.69L280.45 204.00ZM242.40 208.65L246.09 212.35L242.40 216.04L238.70 212.35ZM250.75 208.65L254.44 212.35L250.75 216.04L247.05 212.35ZM259.10 208.65L262.79 212.35L259.10 216.04L255.40 212.35ZM267.45 208.65L271.14 212.35L267.45 216.04L263.75 212.35ZM275.80 208.65L279.49 212.35L275.80 216.04L272.10 212.35ZM284.15 208.65L287.84 212.35L284.15 216.04L280.45 212.35ZM242.40 217.00L246.09 220.70L242.40 224.39L238.70 220.70ZM250.75 217.00L254.44 220.70L250.75 224.39L247.05 220.70ZM259.10 217.00L262.79 220.70L259.10 224.39L255.40 220.70ZM267.45 217.00L271.14 220.70L267.45 224.39L263.75 220.70ZM275.80 217.00L279.49 220.70L275.80 224.39L272.10 220.70ZM284.15 217.00L287.84 220.70L284.15 224.39L280.45 220.70ZM242.40 225.35L246.09 229.05L242.40 232.74L238.70 229.05ZM250.75 225.35L254.44 229.05L250.75 232.74L247.05 229.05ZM259.10 225.35L262.79 229.05L259.10 232.74L255.40 229.05ZM267.45 225.35L271.14 229.05L267.45 232.74L263.75 229.05ZM275.80 225.35L279.49 229.05L275.80 232.74L272.10 229.05ZM284.15 225.35L287.84 229.05L284.15 232.74L280.45 229.05ZM242.40 233.70L246.09 237.40L242.40 241.09L238.70 237.40ZM250.75 233.70L254.44 237.40L250.75 241.09L247.05 237.40ZM259.10 233.70L262.79 237.40L259.10 241.09L255.40 237.40ZM267.45 233.70L271.14 237.40L267.45 241.09L263.75 237.40ZM275.80 233.70L279.49 237.40L275.80 241.09L272.10 237.40ZM284.15 233.70L287.84 237.40L284.15 241.09L280.45 237.40ZM242.40 242.05L246.09 245.75L242.40 249.44L238.70 245.75ZM250.75 242.05L254.44 245.75L250.75 249.44L247.05 245.75ZM259.10 242.05L262.79 245.75L259.10 249.44L255.40 245.75ZM267.45 242.05L271.14 245.75L267.45 249.44L263.75 245.75ZM275.80 242.05L279.49 245.75L275.80 249.44L272.10 245.75ZM284.15 242.05L287.84 245.75L284.15 249.44L280.45 245.75ZM242.40 250.40L246.09 254.10L242.40 257.79L238.70 254.10ZM250.75 250.40L254.44 254.10L250.75 257.79L247.05 254.10ZM259.10 250.40L262.79 254.10L259.10 257.79L255.40 254.10ZM267.45 250.40L271.14 254.10L267.45 257.79L263.75 254.10ZM275.80 250.40L279.49 254.10L275.80 257.79L272.10 254.10ZM284.15 250.40L287.84 254.10L284.15 257.79L280.45 254.10ZM242.40 258.75L246.09 262.45L242.40 266.14L238.70 262.45ZM250.75 258.75L254.44 262.45L250.75 266.14L247.05 262.45ZM259.10 258.75L262.79 262.45L259.10 266.14L255.40 262.45ZM267.45 258.75L271.14 262.45L267.45 266.14L263.75 262.45ZM275.80 258.75L279.49 262.45L275.80 266.14L272.10 262.45ZM284.15 258.75L287.84 262.45L284.15 266.14L280.45 262.45Z"/></g><rect x="257.70" y="138.00" width="13.80" height="109.50" fill="none" stroke="#a6a6a6" stroke-width="0.9"/><rect x="292.10" y="240.20" width="13.80" height="7.30" fill="#000000"/><clipPath id="c11"><rect x="305.90" y="210.20" width="13.80" height="37.30"/></clipPath><rect x="305.90" y="210.20" width="13.80" height="37.30" fill="#fff"/><g clip-path="url(#c11)" fill="#000"><path d="M259.19 208.20L300.49 249.50M263.36 208.20L304.66 249.50M267.54 208.20L308.84 249.50M271.71 208.20L313.01 249.50M275.89 208.20L317.19 249.50M280.06 208.20L321.36 249.50M284.24 208.20L325.54 249.50M288.41 208.20L329.71 249.50M292.59 208.20L333.89 249.50M296.76 208.20L338.06 249.50M300.94 208.20L342.24 249.50M305.11 208.20L346.41 249.50M309.29 208.20L350.59 249.50M313.46 208.20L354.76 249.50M317.64 208.20L358.94 249.50M321.81 208.20L363.11 249.50M325.99 208.20L367.29 249.50" stroke="#000" stroke-width="1.00" fill="none"/></g><rect x="305.90" y="210.20" width="13.80" height="37.30" fill="none" stroke="#a6a6a6" stroke-width="0.9"/><rect x="319.70" y="209.30" width="13.80" height="38.20" fill="#a5a5a5"/><clipPath id="c12"><rect x="333.50" y="208.70" width="13.80" height="38.80"/></clipPath><rect x="333.50" y="208.70" width="13.80" height="38.80" fill="#fff"/><g clip-path="url(#c12)" fill="#000"><rect x="333.50" y="204.41" width="13.80" height="2.08"/><rect x="333.50" y="208.58" width="13.80" height="2.08"/><rect x="333.50" y="212.76" width="13.80" height="2.08"/><rect x="333.50" y="216.93" width="13.80" height="2.08"/><rect x="333.50" y="221.11" width="13.80" height="2.08"/><rect x="333.50" y="225.28" width="13.80" height="2.08"/><rect x="333.50" y="229.46" width="13.80" height="2.08"/><rect x="333.50" y="233.63" width="13.80" height="2.08"/><rect x="333.50" y="237.81" width="13.80" height="2.08"/><rect x="333.50" y="241.98" width="13.80" height="2.08"/><rect x="333.50" y="246.16" width="13.80" height="2.08"/><rect x="333.50" y="250.33" width="13.80" height="2.08"/></g><rect x="333.50" y="208.70" width="13.80" height="38.80" fill="none" stroke="#a6a6a6" stroke-width="0.9"/><clipPath id="c13"><rect x="347.30" y="205.40" width="13.80" height="42.10"/></clipPath><rect x="347.30" y="205.40" width="13.80" height="42.10" fill="#fff"/><g clip-path="url(#c13)" fill="#000"><rect x="341.40" y="197.87" width="1.10" height="1.10"/><rect x="343.48" y="199.96" width="1.10" height="1.10"/><rect x="345.57" y="197.87" width="1.10" height="1.10"/><rect x="347.66" y="199.96" width="1.10" height="1.10"/><rect x="349.75" y="197.87" width="1.10" height="1.10"/><rect x="351.83" y="199.96" width="1.10" height="1.10"/><rect x="353.92" y="197.87" width="1.10" height="1.10"/><rect x="356.01" y="199.96" width="1.10" height="1.10"/><rect x="358.10" y="197.87" width="1.10" height="1.10"/><rect x="360.18" y="199.96" width="1.10" height="1.10"/><rect x="362.27" y="197.87" width="1.10" height="1.10"/><rect x="364.36" y="199.96" width="1.10" height="1.10"/><rect x="341.40" y="202.05" width="1.10" height="1.10"/><rect x="343.48" y="204.13" width="1.10" height="1.10"/><rect x="345.57" y="202.05" width="1.10" height="1.10"/><rect x="347.66" y="204.13" width="1.10" height="1.10"/><rect x="349.75" y="202.05" width="1.10" height="1.10"/><rect x="351.83" y="204.13" width="1.10" height="1.10"/><rect x="353.92" y="202.05" width="1.10" height="1.10"/><rect x="356.01" y="204.13" width="1.10" height="1.10"/><rect x="358.10" y="202.05" width="1.10" height="1.10"/><rect x="360.18" y="204.13" width="1.10" height="1.10"/><rect x="362.27" y="202.05" width="1.10" height="1.10"/><rect x="364.36" y="204.13" width="1.10" height="1.10"/><rect x="341.40" y="206.22" width="1.10" height="1.10"/><rect x="343.48" y="208.31" width="1.10" height="1.10"/><rect x="345.57" y="206.22" width="1.10" height="1.10"/><rect x="347.66" y="208.31" width="1.10" height="1.10"/><rect x="349.75" y="206.22" width="1.10" height="1.10"/><rect x="351.83" y="208.31" width="1.10" height="1.10"/><rect x="353.92" y="206.22" width="1.10" height="1.10"/><rect x="356.01" y="208.31" width="1.10" height="1.10"/><rect x="358.10" y="206.22" width="1.10" height="1.10"/><rect x="360.18" y="208.31" width="1.10" height="1.10"/><rect x="362.27" y="206.22" width="1.10" height="1.10"/><rect x="364.36" y="208.31" width="1.10" height="1.10"/><rect x="341.40" y="210.40" width="1.10" height="1.10"/><rect x="343.48" y="212.48" width="1.10" height="1.10"/><rect x="345.57" y="210.40" width="1.10" height="1.10"/><rect x="347.66" y="212.48" width="1.10" height="1.10"/><rect x="349.75" y="210.40" width="1.10" height="1.10"/><rect x="351.83" y="212.48" width="1.10" height="1.10"/><rect x="353.92" y="210.40" width="1.10" height="1.10"/><rect x="356.01" y="212.48" width="1.10" height="1.10"/><rect x="358.10" y="210.40" width="1.10" height="1.10"/><rect x="360.18" y="212.48" width="1.10" height="1.10"/><rect x="362.27" y="210.40" width="1.10" height="1.10"/><rect x="364.36" y="212.48" width="1.10" height="1.10"/><rect x="341.40" y="214.57" width="1.10" height="1.10"/><rect x="343.48" y="216.66" width="1.10" height="1.10"/><rect x="345.57" y="214.57" width="1.10" height="1.10"/><rect x="347.66" y="216.66" width="1.10" height="1.10"/><rect x="349.75" y="214.57" width="1.10" height="1.10"/><rect x="351.83" y="216.66" width="1.10" height="1.10"/><rect x="353.92" y="214.57" width="1.10" height="1.10"/><rect x="356.01" y="216.66" width="1.10" height="1.10"/><rect x="358.10" y="214.57" width="1.10" height="1.10"/><rect x="360.18" y="216.66" width="1.10" height="1.10"/><rect x="362.27" y="214.57" width="1.10" height="1.10"/><rect x="364.36" y="216.66" width="1.10" height="1.10"/><rect x="341.40" y="218.75" width="1.10" height="1.10"/><rect x="343.48" y="220.83" width="1.10" height="1.10"/><rect x="345.57" y="218.75" width="1.10" height="1.10"/><rect x="347.66" y="220.83" width="1.10" height="1.10"/><rect x="349.75" y="218.75" width="1.10" height="1.10"/><rect x="351.83" y="220.83" width="1.10" height="1.10"/><rect x="353.92" y="218.75" width="1.10" height="1.10"/><rect x="356.01" y="220.83" width="1.10" height="1.10"/><rect x="358.10" y="218.75" width="1.10" height="1.10"/><rect x="360.18" y="220.83" width="1.10" height="1.10"/><rect x="362.27" y="218.75" width="1.10" height="1.10"/><rect x="364.36" y="220.83" width="1.10" height="1.10"/><rect x="341.40" y="222.92" width="1.10" height="1.10"/><rect x="343.48" y="225.01" width="1.10" height="1.10"/><rect x="345.57" y="222.92" width="1.10" height="1.10"/><rect x="347.66" y="225.01" width="1.10" height="1.10"/><rect x="349.75" y="222.92" width="1.10" height="1.10"/><rect x="351.83" y="225.01" width="1.10" height="1.10"/><rect x="353.92" y="222.92" width="1.10" height="1.10"/><rect x="356.01" y="225.01" width="1.10" height="1.10"/><rect x="358.10" y="222.92" width="1.10" height="1.10"/><rect x="360.18" y="225.01" width="1.10" height="1.10"/><rect x="362.27" y="222.92" width="1.10" height="1.10"/><rect x="364.36" y="225.01" width="1.10" height="1.10"/><rect x="341.40" y="227.10" width="1.10" height="1.10"/><rect x="343.48" y="229.18" width="1.10" height="1.10"/><rect x="345.57" y="227.10" width="1.10" height="1.10"/><rect x="347.66" y="229.18" width="1.10" height="1.10"/><rect x="349.75" y="227.10" width="1.10" height="1.10"/><rect x="351.83" y="229.18" width="1.10" height="1.10"/><rect x="353.92" y="227.10" width="1.10" height="1.10"/><rect x="356.01" y="229.18" width="1.10" height="1.10"/><rect x="358.10" y="227.10" width="1.10" height="1.10"/><rect x="360.18" y="229.18" width="1.10" height="1.10"/><rect x="362.27" y="227.10" width="1.10" height="1.10"/><rect x="364.36" y="229.18" width="1.10" height="1.10"/><rect x="341.40" y="231.27" width="1.10" height="1.10"/><rect x="343.48" y="233.36" width="1.10" height="1.10"/><rect x="345.57" y="231.27" width="1.10" height="1.10"/><rect x="347.66" y="233.36" width="1.10" height="1.10"/><rect x="349.75" y="231.27" width="1.10" height="1.10"/><rect x="351.83" y="233.36" width="1.10" height="1.10"/><rect x="353.92" y="231.27" width="1.10" height="1.10"/><rect x="356.01" y="233.36" width="1.10" height="1.10"/><rect x="358.10" y="231.27" width="1.10" height="1.10"/><rect x="360.18" y="233.36" width="1.10" height="1.10"/><rect x="362.27" y="231.27" width="1.10" height="1.10"/><rect x="364.36" y="233.36" width="1.10" height="1.10"/><rect x="341.40" y="235.45" width="1.10" height="1.10"/><rect x="343.48" y="237.53" width="1.10" height="1.10"/><rect x="345.57" y="235.45" width="1.10" height="1.10"/><rect x="347.66" y="237.53" width="1.10" height="1.10"/><rect x="349.75" y="235.45" width="1.10" height="1.10"/><rect x="351.83" y="237.53" width="1.10" height="1.10"/><rect x="353.92" y="235.45" width="1.10" height="1.10"/><rect x="356.01" y="237.53" width="1.10" height="1.10"/><rect x="358.10" y="235.45" width="1.10" height="1.10"/><rect x="360.18" y="237.53" width="1.10" height="1.10"/><rect x="362.27" y="235.45" width="1.10" height="1.10"/><rect x="364.36" y="237.53" width="1.10" height="1.10"/><rect x="341.40" y="239.62" width="1.10" height="1.10"/><rect x="343.48" y="241.71" width="1.10" height="1.10"/><rect x="345.57" y="239.62" width="1.10" height="1.10"/><rect x="347.66" y="241.71" width="1.10" height="1.10"/><rect x="349.75" y="239.62" width="1.10" height="1.10"/><rect x="351.83" y="241.71" width="1.10" height="1.10"/><rect x="353.92" y="239.62" width="1.10" height="1.10"/><rect x="356.01" y="241.71" width="1.10" height="1.10"/><rect x="358.10" y="239.62" width="1.10" height="1.10"/><rect x="360.18" y="241.71" width="1.10" height="1.10"/><rect x="362.27" y="239.62" width="1.10" height="1.10"/><rect x="364.36" y="241.71" width="1.10" height="1.10"/><rect x="341.40" y="243.80" width="1.10" height="1.10"/><rect x="343.48" y="245.88" width="1.10" height="1.10"/><rect x="345.57" y="243.80" width="1.10" height="1.10"/><rect x="347.66" y="245.88" width="1.10" height="1.10"/><rect x="349.75" y="243.80" width="1.10" height="1.10"/><rect x="351.83" y="245.88" width="1.10" height="1.10"/><rect x="353.92" y="243.80" width="1.10" height="1.10"/><rect x="356.01" y="245.88" width="1.10" height="1.10"/><rect x="358.10" y="243.80" width="1.10" height="1.10"/><rect x="360.18" y="245.88" width="1.10" height="1.10"/><rect x="362.27" y="243.80" width="1.10" height="1.10"/><rect x="364.36" y="245.88" width="1.10" height="1.10"/><rect x="341.40" y="247.97" width="1.10" height="1.10"/><rect x="343.48" y="250.06" width="1.10" height="1.10"/><rect x="345.57" y="247.97" width="1.10" height="1.10"/><rect x="347.66" y="250.06" width="1.10" height="1.10"/><rect x="349.75" y="247.97" width="1.10" height="1.10"/><rect x="351.83" y="250.06" width="1.10" height="1.10"/><rect x="353.92" y="247.97" width="1.10" height="1.10"/><rect x="356.01" y="250.06" width="1.10" height="1.10"/><rect x="358.10" y="247.97" width="1.10" height="1.10"/><rect x="360.18" y="250.06" width="1.10" height="1.10"/><rect x="362.27" y="247.97" width="1.10" height="1.10"/><rect x="364.36" y="250.06" width="1.10" height="1.10"/></g><rect x="347.30" y="205.40" width="13.80" height="42.10" fill="none" stroke="#a6a6a6" stroke-width="0.9"/><clipPath id="c14"><rect x="361.10" y="207.50" width="13.80" height="40.00"/></clipPath><rect x="361.10" y="207.50" width="13.80" height="40.00" fill="#fff"/><g clip-path="url(#c14)" fill="#000"><path d="M302.65 205.50L346.65 249.50M311.00 205.50L355.00 249.50M319.35 205.50L363.35 249.50M327.70 205.50L371.70 249.50M336.05 205.50L380.05 249.50M344.40 205.50L388.40 249.50M352.75 205.50L396.75 249.50M361.10 205.50L405.10 249.50M369.45 205.50L413.45 249.50M377.80 205.50L421.80 249.50M386.15 205.50L430.15 249.50M349.20 205.50L305.20 249.50M357.55 205.50L313.55 249.50M365.90 205.50L321.90 249.50M374.25 205.50L330.25 249.50M382.60 205.50L338.60 249.50M390.95 205.50L346.95 249.50M399.30 205.50L355.30 249.50M407.65 205.50L363.65 249.50M416.00 205.50L372.00 249.50M424.35 205.50L380.35 249.50M432.70 205.50L388.70 249.50" stroke="#4a4a4a" stroke-width="1.1" fill="none"/></g><rect x="361.10" y="207.50" width="13.80" height="40.00" fill="none" stroke="#a6a6a6" stroke-width="0.9"/><clipPath id="c15"><rect x="374.90" y="172.20" width="13.80" height="75.30"/></clipPath><rect x="374.90" y="172.20" width="13.80" height="75.30" fill="#fff"/><g clip-path="url(#c15)" fill="#000"><path d="M359.30 158.55L362.99 162.25L359.30 165.94L355.60 162.25ZM367.65 158.55L371.34 162.25L367.65 165.94L363.95 162.25ZM376.00 158.55L379.69 162.25L376.00 165.94L372.30 162.25ZM384.35 158.55L388.04 162.25L384.35 165.94L380.65 162.25ZM392.70 158.55L396.39 162.25L392.70 165.94L389.00 162.25ZM401.05 158.55L404.74 162.25L401.05 165.94L397.35 162.25ZM359.30 166.90L362.99 170.60L359.30 174.29L355.60 170.60ZM367.65 166.90L371.34 170.60L367.65 174.29L363.95 170.60ZM376.00 166.90L379.69 170.60L376.00 174.29L372.30 170.60ZM384.35 166.90L388.04 170.60L384.35 174.29L380.65 170.60ZM392.70 166.90L396.39 170.60L392.70 174.29L389.00 170.60ZM401.05 166.90L404.74 170.60L401.05 174.29L397.35 170.60ZM359.30 175.25L362.99 178.95L359.30 182.64L355.60 178.95ZM367.65 175.25L371.34 178.95L367.65 182.64L363.95 178.95ZM376.00 175.25L379.69 178.95L376.00 182.64L372.30 178.95ZM384.35 175.25L388.04 178.95L384.35 182.64L380.65 178.95ZM392.70 175.25L396.39 178.95L392.70 182.64L389.00 178.95ZM401.05 175.25L404.74 178.95L401.05 182.64L397.35 178.95ZM359.30 183.60L362.99 187.30L359.30 190.99L355.60 187.30ZM367.65 183.60L371.34 187.30L367.65 190.99L363.95 187.30ZM376.00 183.60L379.69 187.30L376.00 190.99L372.30 187.30ZM384.35 183.60L388.04 187.30L384.35 190.99L380.65 187.30ZM392.70 183.60L396.39 187.30L392.70 190.99L389.00 187.30ZM401.05 183.60L404.74 187.30L401.05 190.99L397.35 187.30ZM359.30 191.95L362.99 195.65L359.30 199.34L355.60 195.65ZM367.65 191.95L371.34 195.65L367.65 199.34L363.95 195.65ZM376.00 191.95L379.69 195.65L376.00 199.34L372.30 195.65ZM384.35 191.95L388.04 195.65L384.35 199.34L380.65 195.65ZM392.70 191.95L396.39 195.65L392.70 199.34L389.00 195.65ZM401.05 191.95L404.74 195.65L401.05 199.34L397.35 195.65ZM359.30 200.30L362.99 204.00L359.30 207.69L355.60 204.00ZM367.65 200.30L371.34 204.00L367.65 207.69L363.95 204.00ZM376.00 200.30L379.69 204.00L376.00 207.69L372.30 204.00ZM384.35 200.30L388.04 204.00L384.35 207.69L380.65 204.00ZM392.70 200.30L396.39 204.00L392.70 207.69L389.00 204.00ZM401.05 200.30L404.74 204.00L401.05 207.69L397.35 204.00ZM359.30 208.65L362.99 212.35L359.30 216.04L355.60 212.35ZM367.65 208.65L371.34 212.35L367.65 216.04L363.95 212.35ZM376.00 208.65L379.69 212.35L376.00 216.04L372.30 212.35ZM384.35 208.65L388.04 212.35L384.35 216.04L380.65 212.35ZM392.70 208.65L396.39 212.35L392.70 216.04L389.00 212.35ZM401.05 208.65L404.74 212.35L401.05 216.04L397.35 212.35ZM359.30 217.00L362.99 220.70L359.30 224.39L355.60 220.70ZM367.65 217.00L371.34 220.70L367.65 224.39L363.95 220.70ZM376.00 217.00L379.69 220.70L376.00 224.39L372.30 220.70ZM384.35 217.00L388.04 220.70L384.35 224.39L380.65 220.70ZM392.70 217.00L396.39 220.70L392.70 224.39L389.00 220.70ZM401.05 217.00L404.74 220.70L401.05 224.39L397.35 220.70ZM359.30 225.35L362.99 229.05L359.30 232.74L355.60 229.05ZM367.65 225.35L371.34 229.05L367.65 232.74L363.95 229.05ZM376.00 225.35L379.69 229.05L376.00 232.74L372.30 229.05ZM384.35 225.35L388.04 229.05L384.35 232.74L380.65 229.05ZM392.70 225.35L396.39 229.05L392.70 232.74L389.00 229.05ZM401.05 225.35L404.74 229.05L401.05 232.74L397.35 229.05ZM359.30 233.70L362.99 237.40L359.30 241.09L355.60 237.40ZM367.65 233.70L371.34 237.40L367.65 241.09L363.95 237.40ZM376.00 233.70L379.69 237.40L376.00 241.09L372.30 237.40ZM384.35 233.70L388.04 237.40L384.35 241.09L380.65 237.40ZM392.70 233.70L396.39 237.40L392.70 241.09L389.00 237.40ZM401.05 233.70L404.74 237.40L401.05 241.09L397.35 237.40ZM359.30 242.05L362.99 245.75L359.30 249.44L355.60 245.75ZM367.65 242.05L371.34 245.75L367.65 249.44L363.95 245.75ZM376.00 242.05L379.69 245.75L376.00 249.44L372.30 245.75ZM384.35 242.05L388.04 245.75L384.35 249.44L380.65 245.75ZM392.70 242.05L396.39 245.75L392.70 249.44L389.00 245.75ZM401.05 242.05L404.74 245.75L401.05 249.44L397.35 245.75ZM359.30 250.40L362.99 254.10L359.30 257.79L355.60 254.10ZM367.65 250.40L371.34 254.10L367.65 257.79L363.95 254.10ZM376.00 250.40L379.69 254.10L376.00 257.79L372.30 254.10ZM384.35 250.40L388.04 254.10L384.35 257.79L380.65 254.10ZM392.70 250.40L396.39 254.10L392.70 257.79L389.00 254.10ZM401.05 250.40L404.74 254.10L401.05 257.79L397.35 254.10ZM359.30 258.75L362.99 262.45L359.30 266.14L355.60 262.45ZM367.65 258.75L371.34 262.45L367.65 266.14L363.95 262.45ZM376.00 258.75L379.69 262.45L376.00 266.14L372.30 262.45ZM384.35 258.75L388.04 262.45L384.35 266.14L380.65 262.45ZM392.70 258.75L396.39 262.45L392.70 266.14L389.00 262.45ZM401.05 258.75L404.74 262.45L401.05 266.14L397.35 262.45Z"/></g><rect x="374.90" y="172.20" width="13.80" height="75.30" fill="none" stroke="#a6a6a6" stroke-width="0.9"/><rect x="409.90" y="219.40" width="13.80" height="28.10" fill="#000000"/><clipPath id="c16"><rect x="423.70" y="97.30" width="13.80" height="150.20"/></clipPath><rect x="423.70" y="97.30" width="13.80" height="150.20" fill="#fff"/><g clip-path="url(#c16)" fill="#000"><path d="M263.19 95.30L417.39 249.50M267.36 95.30L421.56 249.50M271.54 95.30L425.74 249.50M275.71 95.30L429.91 249.50M279.89 95.30L434.09 249.50M284.06 95.30L438.26 249.50M288.24 95.30L442.44 249.50M292.41 95.30L446.61 249.50M296.59 95.30L450.79 249.50M300.76 95.30L454.96 249.50M304.94 95.30L459.14 249.50M309.11 95.30L463.31 249.50M313.29 95.30L467.49 249.50M317.46 95.30L471.66 249.50M321.64 95.30L475.84 249.50M325.81 95.30L480.01 249.50M329.99 95.30L484.19 249.50M334.16 95.30L488.36 249.50M338.34 95.30L492.54 249.50M342.51 95.30L496.71 249.50M346.69 95.30L500.89 249.50M350.86 95.30L505.06 249.50M355.04 95.30L509.24 249.50M359.21 95.30L513.41 249.50M363.39 95.30L517.59 249.50M367.56 95.30L521.76 249.50M371.74 95.30L525.94 249.50M375.91 95.30L530.11 249.50M380.09 95.30L534.29 249.50M384.26 95.30L538.46 249.50M388.44 95.30L542.64 249.50M392.61 95.30L546.81 249.50M396.79 95.30L550.99 249.50M400.96 95.30L555.16 249.50M405.14 95.30L559.34 249.50M409.31 95.30L563.51 249.50M413.49 95.30L567.69 249.50M417.66 95.30L571.86 249.50M421.84 95.30L576.04 249.50M426.01 95.30L580.21 249.50M430.19 95.30L584.39 249.50M434.36 95.30L588.56 249.50M438.54 95.30L592.74 249.50M442.71 95.30L596.91 249.50" stroke="#000" stroke-width="1.00" fill="none"/></g><rect x="423.70" y="97.30" width="13.80" height="150.20" fill="none" stroke="#a6a6a6" stroke-width="0.9"/><rect x="437.50" y="92.90" width="13.80" height="154.60" fill="#a5a5a5"/><clipPath id="c17"><rect x="451.30" y="92.70" width="13.80" height="154.80"/></clipPath><rect x="451.30" y="92.70" width="13.80" height="154.80" fill="#fff"/><g clip-path="url(#c17)" fill="#000"><rect x="451.30" y="87.51" width="13.80" height="2.08"/><rect x="451.30" y="91.68" width="13.80" height="2.08"/><rect x="451.30" y="95.86" width="13.80" height="2.08"/><rect x="451.30" y="100.03" width="13.80" height="2.08"/><rect x="451.30" y="104.21" width="13.80" height="2.08"/><rect x="451.30" y="108.38" width="13.80" height="2.08"/><rect x="451.30" y="112.56" width="13.80" height="2.08"/><rect x="451.30" y="116.73" width="13.80" height="2.08"/><rect x="451.30" y="120.91" width="13.80" height="2.08"/><rect x="451.30" y="125.08" width="13.80" height="2.08"/><rect x="451.30" y="129.26" width="13.80" height="2.08"/><rect x="451.30" y="133.43" width="13.80" height="2.08"/><rect x="451.30" y="137.61" width="13.80" height="2.08"/><rect x="451.30" y="141.78" width="13.80" height="2.08"/><rect x="451.30" y="145.96" width="13.80" height="2.08"/><rect x="451.30" y="150.13" width="13.80" height="2.08"/><rect x="451.30" y="154.31" width="13.80" height="2.08"/><rect x="451.30" y="158.48" width="13.80" height="2.08"/><rect x="451.30" y="162.66" width="13.80" height="2.08"/><rect x="451.30" y="166.83" width="13.80" height="2.08"/><rect x="451.30" y="171.01" width="13.80" height="2.08"/><rect x="451.30" y="175.18" width="13.80" height="2.08"/><rect x="451.30" y="179.36" width="13.80" height="2.08"/><rect x="451.30" y="183.53" width="13.80" height="2.08"/><rect x="451.30" y="187.71" width="13.80" height="2.08"/><rect x="451.30" y="191.88" width="13.80" height="2.08"/><rect x="451.30" y="196.06" width="13.80" height="2.08"/><rect x="451.30" y="200.23" width="13.80" height="2.08"/><rect x="451.30" y="204.41" width="13.80" height="2.08"/><rect x="451.30" y="208.58" width="13.80" height="2.08"/><rect x="451.30" y="212.76" width="13.80" height="2.08"/><rect x="451.30" y="216.93" width="13.80" height="2.08"/><rect x="451.30" y="221.11" width="13.80" height="2.08"/><rect x="451.30" y="225.28" width="13.80" height="2.08"/><rect x="451.30" y="229.46" width="13.80" height="2.08"/><rect x="451.30" y="233.63" width="13.80" height="2.08"/><rect x="451.30" y="237.81" width="13.80" height="2.08"/><rect x="451.30" y="241.98" width="13.80" height="2.08"/><rect x="451.30" y="246.16" width="13.80" height="2.08"/><rect x="451.30" y="250.33" width="13.80" height="2.08"/></g><rect x="451.30" y="92.70" width="13.80" height="154.80" fill="none" stroke="#a6a6a6" stroke-width="0.9"/><clipPath id="c18"><rect x="465.10" y="90.60" width="13.80" height="156.90"/></clipPath><rect x="465.10" y="90.60" width="13.80" height="156.90" fill="#fff"/><g clip-path="url(#c18)" fill="#000"><rect x="458.30" y="85.15" width="1.10" height="1.10"/><rect x="460.38" y="87.23" width="1.10" height="1.10"/><rect x="462.47" y="85.15" width="1.10" height="1.10"/><rect x="464.56" y="87.23" width="1.10" height="1.10"/><rect x="466.65" y="85.15" width="1.10" height="1.10"/><rect x="468.73" y="87.23" width="1.10" height="1.10"/><rect x="470.82" y="85.15" width="1.10" height="1.10"/><rect x="472.91" y="87.23" width="1.10" height="1.10"/><rect x="475.00" y="85.15" width="1.10" height="1.10"/><rect x="477.08" y="87.23" width="1.10" height="1.10"/><rect x="479.17" y="85.15" width="1.10" height="1.10"/><rect x="481.26" y="87.23" width="1.10" height="1.10"/><rect x="458.30" y="89.32" width="1.10" height="1.10"/><rect x="460.38" y="91.41" width="1.10" height="1.10"/><rect x="462.47" y="89.32" width="1.10" height="1.10"/><rect x="464.56" y="91.41" width="1.10" height="1.10"/><rect x="466.65" y="89.32" width="1.10" height="1.10"/><rect x="468.73" y="91.41" width="1.10" height="1.10"/><rect x="470.82" y="89.32" width="1.10" height="1.10"/><rect x="472.91" y="91.41" width="1.10" height="1.10"/><rect x="475.00" y="89.32" width="1.10" height="1.10"/><rect x="477.08" y="91.41" width="1.10" height="1.10"/><rect x="479.17" y="89.32" width="1.10" height="1.10"/><rect x="481.26" y="91.41" width="1.10" height="1.10"/><rect x="458.30" y="93.50" width="1.10" height="1.10"/><rect x="460.38" y="95.58" width="1.10" height="1.10"/><rect x="462.47" y="93.50" width="1.10" height="1.10"/><rect x="464.56" y="95.58" width="1.10" height="1.10"/><rect x="466.65" y="93.50" width="1.10" height="1.10"/><rect x="468.73" y="95.58" width="1.10" height="1.10"/><rect x="470.82" y="93.50" width="1.10" height="1.10"/><rect x="472.91" y="95.58" width="1.10" height="1.10"/><rect x="475.00" y="93.50" width="1.10" height="1.10"/><rect x="477.08" y="95.58" width="1.10" height="1.10"/><rect x="479.17" y="93.50" width="1.10" height="1.10"/><rect x="481.26" y="95.58" width="1.10" height="1.10"/><rect x="458.30" y="97.67" width="1.10" height="1.10"/><rect x="460.38" y="99.76" width="1.10" height="1.10"/><rect x="462.47" y="97.67" width="1.10" height="1.10"/><rect x="464.56" y="99.76" width="1.10" height="1.10"/><rect x="466.65" y="97.67" width="1.10" height="1.10"/><rect x="468.73" y="99.76" width="1.10" height="1.10"/><rect x="470.82" y="97.67" width="1.10" height="1.10"/><rect x="472.91" y="99.76" width="1.10" height="1.10"/><rect x="475.00" y="97.67" width="1.10" height="1.10"/><rect x="477.08" y="99.76" width="1.10" height="1.10"/><rect x="479.17" y="97.67" width="1.10" height="1.10"/><rect x="481.26" y="99.76" width="1.10" height="1.10"/><rect x="458.30" y="101.85" width="1.10" height="1.10"/><rect x="460.38" y="103.93" width="1.10" height="1.10"/><rect x="462.47" y="101.85" width="1.10" height="1.10"/><rect x="464.56" y="103.93" width="1.10" height="1.10"/><rect x="466.65" y="101.85" width="1.10" height="1.10"/><rect x="468.73" y="103.93" width="1.10" height="1.10"/><rect x="470.82" y="101.85" width="1.10" height="1.10"/><rect x="472.91" y="103.93" width="1.10" height="1.10"/><rect x="475.00" y="101.85" width="1.10" height="1.10"/><rect x="477.08" y="103.93" width="1.10" height="1.10"/><rect x="479.17" y="101.85" width="1.10" height="1.10"/><rect x="481.26" y="103.93" width="1.10" height="1.10"/><rect x="458.30" y="106.02" width="1.10" height="1.10"/><rect x="460.38" y="108.11" width="1.10" height="1.10"/><rect x="462.47" y="106.02" width="1.10" height="1.10"/><rect x="464.56" y="108.11" width="1.10" height="1.10"/><rect x="466.65" y="106.02" width="1.10" height="1.10"/><rect x="468.73" y="108.11" width="1.10" height="1.10"/><rect x="470.82" y="106.02" width="1.10" height="1.10"/><rect x="472.91" y="108.11" width="1.10" height="1.10"/><rect x="475.00" y="106.02" width="1.10" height="1.10"/><rect x="477.08" y="108.11" width="1.10" height="1.10"/><rect x="479.17" y="106.02" width="1.10" height="1.10"/><rect x="481.26" y="108.11" width="1.10" height="1.10"/><rect x="458.30" y="110.20" width="1.10" height="1.10"/><rect x="460.38" y="112.28" width="1.10" height="1.10"/><rect x="462.47" y="110.20" width="1.10" height="1.10"/><rect x="464.56" y="112.28" width="1.10" height="1.10"/><rect x="466.65" y="110.20" width="1.10" height="1.10"/><rect x="468.73" y="112.28" width="1.10" height="1.10"/><rect x="470.82" y="110.20" width="1.10" height="1.10"/><rect x="472.91" y="112.28" width="1.10" height="1.10"/><rect x="475.00" y="110.20" width="1.10" height="1.10"/><rect x="477.08" y="112.28" width="1.10" height="1.10"/><rect x="479.17" y="110.20" width="1.10" height="1.10"/><rect x="481.26" y="112.28" width="1.10" height="1.10"/><rect x="458.30" y="114.37" width="1.10" height="1.10"/><rect x="460.38" y="116.46" width="1.10" height="1.10"/><rect x="462.47" y="114.37" width="1.10" height="1.10"/><rect x="464.56" y="116.46" width="1.10" height="1.10"/><rect x="466.65" y="114.37" width="1.10" height="1.10"/><rect x="468.73" y="116.46" width="1.10" height="1.10"/><rect x="470.82" y="114.37" width="1.10" height="1.10"/><rect x="472.91" y="116.46" width="1.10" height="1.10"/><rect x="475.00" y="114.37" width="1.10" height="1.10"/><rect x="477.08" y="116.46" width="1.10" height="1.10"/><rect x="479.17" y="114.37" width="1.10" height="1.10"/><rect x="481.26" y="116.46" width="1.10" height="1.10"/><rect x="458.30" y="118.55" width="1.10" height="1.10"/><rect x="460.38" y="120.63" width="1.10" height="1.10"/><rect x="462.47" y="118.55" width="1.10" height="1.10"/><rect x="464.56" y="120.63" width="1.10" height="1.10"/><rect x="466.65" y="118.55" width="1.10" height="1.10"/><rect x="468.73" y="120.63" width="1.10" height="1.10"/><rect x="470.82" y="118.55" width="1.10" height="1.10"/><rect x="472.91" y="120.63" width="1.10" height="1.10"/><rect x="475.00" y="118.55" width="1.10" height="1.10"/><rect x="477.08" y="120.63" width="1.10" height="1.10"/><rect x="479.17" y="118.55" width="1.10" height="1.10"/><rect x="481.26" y="120.63" width="1.10" height="1.10"/><rect x="458.30" y="122.72" width="1.10" height="1.10"/><rect x="460.38" y="124.81" width="1.10" height="1.10"/><rect x="462.47" y="122.72" width="1.10" height="1.10"/><rect x="464.56" y="124.81" width="1.10" height="1.10"/><rect x="466.65" y="122.72" width="1.10" height="1.10"/><rect x="468.73" y="124.81" width="1.10" height="1.10"/><rect x="470.82" y="122.72" width="1.10" height="1.10"/><rect x="472.91" y="124.81" width="1.10" height="1.10"/><rect x="475.00" y="122.72" width="1.10" height="1.10"/><rect x="477.08" y="124.81" width="1.10" height="1.10"/><rect x="479.17" y="122.72" width="1.10" height="1.10"/><rect x="481.26" y="124.81" width="1.10" height="1.10"/><rect x="458.30" y="126.90" width="1.10" height="1.10"/><rect x="460.38" y="128.98" width="1.10" height="1.10"/><rect x="462.47" y="126.90" width="1.10" height="1.10"/><rect x="464.56" y="128.98" width="1.10" height="1.10"/><rect x="466.65" y="126.90" width="1.10" height="1.10"/><rect x="468.73" y="128.98" width="1.10" height="1.10"/><rect x="470.82" y="126.90" width="1.10" height="1.10"/><rect x="472.91" y="128.98" width="1.10" height="1.10"/><rect x="475.00" y="126.90" width="1.10" height="1.10"/><rect x="477.08" y="128.98" width="1.10" height="1.10"/><rect x="479.17" y="126.90" width="1.10" height="1.10"/><rect x="481.26" y="128.98" width="1.10" height="1.10"/><rect x="458.30" y="131.07" width="1.10" height="1.10"/><rect x="460.38" y="133.16" width="1.10" height="1.10"/><rect x="462.47" y="131.07" width="1.10" height="1.10"/><rect x="464.56" y="133.16" width="1.10" height="1.10"/><rect x="466.65" y="131.07" width="1.10" height="1.10"/><rect x="468.73" y="133.16" width="1.10" height="1.10"/><rect x="470.82" y="131.07" width="1.10" height="1.10"/><rect x="472.91" y="133.16" width="1.10" height="1.10"/><rect x="475.00" y="131.07" width="1.10" height="1.10"/><rect x="477.08" y="133.16" width="1.10" height="1.10"/><rect x="479.17" y="131.07" width="1.10" height="1.10"/><rect x="481.26" y="133.16" width="1.10" height="1.10"/><rect x="458.30" y="135.25" width="1.10" height="1.10"/><rect x="460.38" y="137.33" width="1.10" height="1.10"/><rect x="462.47" y="135.25" width="1.10" height="1.10"/><rect x="464.56" y="137.33" width="1.10" height="1.10"/><rect x="466.65" y="135.25" width="1.10" height="1.10"/><rect x="468.73" y="137.33" width="1.10" height="1.10"/><rect x="470.82" y="135.25" width="1.10" height="1.10"/><rect x="472.91" y="137.33" width="1.10" height="1.10"/><rect x="475.00" y="135.25" width="1.10" height="1.10"/><rect x="477.08" y="137.33" width="1.10" height="1.10"/><rect x="479.17" y="135.25" width="1.10" height="1.10"/><rect x="481.26" y="137.33" width="1.10" height="1.10"/><rect x="458.30" y="139.42" width="1.10" height="1.10"/><rect x="460.38" y="141.51" width="1.10" height="1.10"/><rect x="462.47" y="139.42" width="1.10" height="1.10"/><rect x="464.56" y="141.51" width="1.10" height="1.10"/><rect x="466.65" y="139.42" width="1.10" height="1.10"/><rect x="468.73" y="141.51" width="1.10" height="1.10"/><rect x="470.82" y="139.42" width="1.10" height="1.10"/><rect x="472.91" y="141.51" width="1.10" height="1.10"/><rect x="475.00" y="139.42" width="1.10" height="1.10"/><rect x="477.08" y="141.51" width="1.10" height="1.10"/><rect x="479.17" y="139.42" width="1.10" height="1.10"/><rect x="481.26" y="141.51" width="1.10" height="1.10"/><rect x="458.30" y="143.60" width="1.10" height="1.10"/><rect x="460.38" y="145.68" width="1.10" height="1.10"/><rect x="462.47" y="143.60" width="1.10" height="1.10"/><rect x="464.56" y="145.68" width="1.10" height="1.10"/><rect x="466.65" y="143.60" width="1.10" height="1.10"/><rect x="468.73" y="145.68" width="1.10" height="1.10"/><rect x="470.82" y="143.60" width="1.10" height="1.10"/><rect x="472.91" y="145.68" width="1.10" height="1.10"/><rect x="475.00" y="143.60" width="1.10" height="1.10"/><rect x="477.08" y="145.68" width="1.10" height="1.10"/><rect x="479.17" y="143.60" width="1.10" height="1.10"/><rect x="481.26" y="145.68" width="1.10" height="1.10"/><rect x="458.30" y="147.77" width="1.10" height="1.10"/><rect x="460.38" y="149.86" width="1.10" height="1.10"/><rect x="462.47" y="147.77" width="1.10" height="1.10"/><rect x="464.56" y="149.86" width="1.10" height="1.10"/><rect x="466.65" y="147.77" width="1.10" height="1.10"/><rect x="468.73" y="149.86" width="1.10" height="1.10"/><rect x="470.82" y="147.77" width="1.10" height="1.10"/><rect x="472.91" y="149.86" width="1.10" height="1.10"/><rect x="475.00" y="147.77" width="1.10" height="1.10"/><rect x="477.08" y="149.86" width="1.10" height="1.10"/><rect x="479.17" y="147.77" width="1.10" height="1.10"/><rect x="481.26" y="149.86" width="1.10" height="1.10"/><rect x="458.30" y="151.95" width="1.10" height="1.10"/><rect x="460.38" y="154.03" width="1.10" height="1.10"/><rect x="462.47" y="151.95" width="1.10" height="1.10"/><rect x="464.56" y="154.03" width="1.10" height="1.10"/><rect x="466.65" y="151.95" width="1.10" height="1.10"/><rect x="468.73" y="154.03" width="1.10" height="1.10"/><rect x="470.82" y="151.95" width="1.10" height="1.10"/><rect x="472.91" y="154.03" width="1.10" height="1.10"/><rect x="475.00" y="151.95" width="1.10" height="1.10"/><rect x="477.08" y="154.03" width="1.10" height="1.10"/><rect x="479.17" y="151.95" width="1.10" height="1.10"/><rect x="481.26" y="154.03" width="1.10" height="1.10"/><rect x="458.30" y="156.12" width="1.10" height="1.10"/><rect x="460.38" y="158.21" width="1.10" height="1.10"/><rect x="462.47" y="156.12" width="1.10" height="1.10"/><rect x="464.56" y="158.21" width="1.10" height="1.10"/><rect x="466.65" y="156.12" width="1.10" height="1.10"/><rect x="468.73" y="158.21" width="1.10" height="1.10"/><rect x="470.82" y="156.12" width="1.10" height="1.10"/><rect x="472.91" y="158.21" width="1.10" height="1.10"/><rect x="475.00" y="156.12" width="1.10" height="1.10"/><rect x="477.08" y="158.21" width="1.10" height="1.10"/><rect x="479.17" y="156.12" width="1.10" height="1.10"/><rect x="481.26" y="158.21" width="1.10" height="1.10"/><rect x="458.30" y="160.30" width="1.10" height="1.10"/><rect x="460.38" y="162.38" width="1.10" height="1.10"/><rect x="462.47" y="160.30" width="1.10" height="1.10"/><rect x="464.56" y="162.38" width="1.10" height="1.10"/><rect x="466.65" y="160.30" width="1.10" height="1.10"/><rect x="468.73" y="162.38" width="1.10" height="1.10"/><rect x="470.82" y="160.30" width="1.10" height="1.10"/><rect x="472.91" y="162.38" width="1.10" height="1.10"/><rect x="475.00" y="160.30" width="1.10" height="1.10"/><rect x="477.08" y="162.38" width="1.10" height="1.10"/><rect x="479.17" y="160.30" width="1.10" height="1.10"/><rect x="481.26" y="162.38" width="1.10" height="1.10"/><rect x="458.30" y="164.47" width="1.10" height="1.10"/><rect x="460.38" y="166.56" width="1.10" height="1.10"/><rect x="462.47" y="164.47" width="1.10" height="1.10"/><rect x="464.56" y="166.56" width="1.10" height="1.10"/><rect x="466.65" y="164.47" width="1.10" height="1.10"/><rect x="468.73" y="166.56" width="1.10" height="1.10"/><rect x="470.82" y="164.47" width="1.10" height="1.10"/><rect x="472.91" y="166.56" width="1.10" height="1.10"/><rect x="475.00" y="164.47" width="1.10" height="1.10"/><rect x="477.08" y="166.56" width="1.10" height="1.10"/><rect x="479.17" y="164.47" width="1.10" height="1.10"/><rect x="481.26" y="166.56" width="1.10" height="1.10"/><rect x="458.30" y="168.65" width="1.10" height="1.10"/><rect x="460.38" y="170.73" width="1.10" height="1.10"/><rect x="462.47" y="168.65" width="1.10" height="1.10"/><rect x="464.56" y="170.73" width="1.10" height="1.10"/><rect x="466.65" y="168.65" width="1.10" height="1.10"/><rect x="468.73" y="170.73" width="1.10" height="1.10"/><rect x="470.82" y="168.65" width="1.10" height="1.10"/><rect x="472.91" y="170.73" width="1.10" height="1.10"/><rect x="475.00" y="168.65" width="1.10" height="1.10"/><rect x="477.08" y="170.73" width="1.10" height="1.10"/><rect x="479.17" y="168.65" width="1.10" height="1.10"/><rect x="481.26" y="170.73" width="1.10" height="1.10"/><rect x="458.30" y="172.82" width="1.10" height="1.10"/><rect x="460.38" y="174.91" width="1.10" height="1.10"/><rect x="462.47" y="172.82" width="1.10" height="1.10"/><rect x="464.56" y="174.91" width="1.10" height="1.10"/><rect x="466.65" y="172.82" width="1.10" height="1.10"/><rect x="468.73" y="174.91" width="1.10" height="1.10"/><rect x="470.82" y="172.82" width="1.10" height="1.10"/><rect x="472.91" y="174.91" width="1.10" height="1.10"/><rect x="475.00" y="172.82" width="1.10" height="1.10"/><rect x="477.08" y="174.91" width="1.10" height="1.10"/><rect x="479.17" y="172.82" width="1.10" height="1.10"/><rect x="481.26" y="174.91" width="1.10" height="1.10"/><rect x="458.30" y="177.00" width="1.10" height="1.10"/><rect x="460.38" y="179.08" width="1.10" height="1.10"/><rect x="462.47" y="177.00" width="1.10" height="1.10"/><rect x="464.56" y="179.08" width="1.10" height="1.10"/><rect x="466.65" y="177.00" width="1.10" height="1.10"/><rect x="468.73" y="179.08" width="1.10" height="1.10"/><rect x="470.82" y="177.00" width="1.10" height="1.10"/><rect x="472.91" y="179.08" width="1.10" height="1.10"/><rect x="475.00" y="177.00" width="1.10" height="1.10"/><rect x="477.08" y="179.08" width="1.10" height="1.10"/><rect x="479.17" y="177.00" width="1.10" height="1.10"/><rect x="481.26" y="179.08" width="1.10" height="1.10"/><rect x="458.30" y="181.17" width="1.10" height="1.10"/><rect x="460.38" y="183.26" width="1.10" height="1.10"/><rect x="462.47" y="181.17" width="1.10" height="1.10"/><rect x="464.56" y="183.26" width="1.10" height="1.10"/><rect x="466.65" y="181.17" width="1.10" height="1.10"/><rect x="468.73" y="183.26" width="1.10" height="1.10"/><rect x="470.82" y="181.17" width="1.10" height="1.10"/><rect x="472.91" y="183.26" width="1.10" height="1.10"/><rect x="475.00" y="181.17" width="1.10" height="1.10"/><rect x="477.08" y="183.26" width="1.10" height="1.10"/><rect x="479.17" y="181.17" width="1.10" height="1.10"/><rect x="481.26" y="183.26" width="1.10" height="1.10"/><rect x="458.30" y="185.35" width="1.10" height="1.10"/><rect x="460.38" y="187.43" width="1.10" height="1.10"/><rect x="462.47" y="185.35" width="1.10" height="1.10"/><rect x="464.56" y="187.43" width="1.10" height="1.10"/><rect x="466.65" y="185.35" width="1.10" height="1.10"/><rect x="468.73" y="187.43" width="1.10" height="1.10"/><rect x="470.82" y="185.35" width="1.10" height="1.10"/><rect x="472.91" y="187.43" width="1.10" height="1.10"/><rect x="475.00" y="185.35" width="1.10" height="1.10"/><rect x="477.08" y="187.43" width="1.10" height="1.10"/><rect x="479.17" y="185.35" width="1.10" height="1.10"/><rect x="481.26" y="187.43" width="1.10" height="1.10"/><rect x="458.30" y="189.52" width="1.10" height="1.10"/><rect x="460.38" y="191.61" width="1.10" height="1.10"/><rect x="462.47" y="189.52" width="1.10" height="1.10"/><rect x="464.56" y="191.61" width="1.10" height="1.10"/><rect x="466.65" y="189.52" width="1.10" height="1.10"/><rect x="468.73" y="191.61" width="1.10" height="1.10"/><rect x="470.82" y="189.52" width="1.10" height="1.10"/><rect x="472.91" y="191.61" width="1.10" height="1.10"/><rect x="475.00" y="189.52" width="1.10" height="1.10"/><rect x="477.08" y="191.61" width="1.10" height="1.10"/><rect x="479.17" y="189.52" width="1.10" height="1.10"/><rect x="481.26" y="191.61" width="1.10" height="1.10"/><rect x="458.30" y="193.70" width="1.10" height="1.10"/><rect x="460.38" y="195.78" width="1.10" height="1.10"/><rect x="462.47" y="193.70" width="1.10" height="1.10"/><rect x="464.56" y="195.78" width="1.10" height="1.10"/><rect x="466.65" y="193.70" width="1.10" height="1.10"/><rect x="468.73" y="195.78" width="1.10" height="1.10"/><rect x="470.82" y="193.70" width="1.10" height="1.10"/><rect x="472.91" y="195.78" width="1.10" height="1.10"/><rect x="475.00" y="193.70" width="1.10" height="1.10"/><rect x="477.08" y="195.78" width="1.10" height="1.10"/><rect x="479.17" y="193.70" width="1.10" height="1.10"/><rect x="481.26" y="195.78" width="1.10" height="1.10"/><rect x="458.30" y="197.87" width="1.10" height="1.10"/><rect x="460.38" y="199.96" width="1.10" height="1.10"/><rect x="462.47" y="197.87" width="1.10" height="1.10"/><rect x="464.56" y="199.96" width="1.10" height="1.10"/><rect x="466.65" y="197.87" width="1.10" height="1.10"/><rect x="468.73" y="199.96" width="1.10" height="1.10"/><rect x="470.82" y="197.87" width="1.10" height="1.10"/><rect x="472.91" y="199.96" width="1.10" height="1.10"/><rect x="475.00" y="197.87" width="1.10" height="1.10"/><rect x="477.08" y="199.96" width="1.10" height="1.10"/><rect x="479.17" y="197.87" width="1.10" height="1.10"/><rect x="481.26" y="199.96" width="1.10" height="1.10"/><rect x="458.30" y="202.05" width="1.10" height="1.10"/><rect x="460.38" y="204.13" width="1.10" height="1.10"/><rect x="462.47" y="202.05" width="1.10" height="1.10"/><rect x="464.56" y="204.13" width="1.10" height="1.10"/><rect x="466.65" y="202.05" width="1.10" height="1.10"/><rect x="468.73" y="204.13" width="1.10" height="1.10"/><rect x="470.82" y="202.05" width="1.10" height="1.10"/><rect x="472.91" y="204.13" width="1.10" height="1.10"/><rect x="475.00" y="202.05" width="1.10" height="1.10"/><rect x="477.08" y="204.13" width="1.10" height="1.10"/><rect x="479.17" y="202.05" width="1.10" height="1.10"/><rect x="481.26" y="204.13" width="1.10" height="1.10"/><rect x="458.30" y="206.22" width="1.10" height="1.10"/><rect x="460.38" y="208.31" width="1.10" height="1.10"/><rect x="462.47" y="206.22" width="1.10" height="1.10"/><rect x="464.56" y="208.31" width="1.10" height="1.10"/><rect x="466.65" y="206.22" width="1.10" height="1.10"/><rect x="468.73" y="208.31" width="1.10" height="1.10"/><rect x="470.82" y="206.22" width="1.10" height="1.10"/><rect x="472.91" y="208.31" width="1.10" height="1.10"/><rect x="475.00" y="206.22" width="1.10" height="1.10"/><rect x="477.08" y="208.31" width="1.10" height="1.10"/><rect x="479.17" y="206.22" width="1.10" height="1.10"/><rect x="481.26" y="208.31" width="1.10" height="1.10"/><rect x="458.30" y="210.40" width="1.10" height="1.10"/><rect x="460.38" y="212.48" width="1.10" height="1.10"/><rect x="462.47" y="210.40" width="1.10" height="1.10"/><rect x="464.56" y="212.48" width="1.10" height="1.10"/><rect x="466.65" y="210.40" width="1.10" height="1.10"/><rect x="468.73" y="212.48" width="1.10" height="1.10"/><rect x="470.82" y="210.40" width="1.10" height="1.10"/><rect x="472.91" y="212.48" width="1.10" height="1.10"/><rect x="475.00" y="210.40" width="1.10" height="1.10"/><rect x="477.08" y="212.48" width="1.10" height="1.10"/><rect x="479.17" y="210.40" width="1.10" height="1.10"/><rect x="481.26" y="212.48" width="1.10" height="1.10"/><rect x="458.30" y="214.57" width="1.10" height="1.10"/><rect x="460.38" y="216.66" width="1.10" height="1.10"/><rect x="462.47" y="214.57" width="1.10" height="1.10"/><rect x="464.56" y="216.66" width="1.10" height="1.10"/><rect x="466.65" y="214.57" width="1.10" height="1.10"/><rect x="468.73" y="216.66" width="1.10" height="1.10"/><rect x="470.82" y="214.57" width="1.10" height="1.10"/><rect x="472.91" y="216.66" width="1.10" height="1.10"/><rect x="475.00" y="214.57" width="1.10" height="1.10"/><rect x="477.08" y="216.66" width="1.10" height="1.10"/><rect x="479.17" y="214.57" width="1.10" height="1.10"/><rect x="481.26" y="216.66" width="1.10" height="1.10"/><rect x="458.30" y="218.75" width="1.10" height="1.10"/><rect x="460.38" y="220.83" width="1.10" height="1.10"/><rect x="462.47" y="218.75" width="1.10" height="1.10"/><rect x="464.56" y="220.83" width="1.10" height="1.10"/><rect x="466.65" y="218.75" width="1.10" height="1.10"/><rect x="468.73" y="220.83" width="1.10" height="1.10"/><rect x="470.82" y="218.75" width="1.10" height="1.10"/><rect x="472.91" y="220.83" width="1.10" height="1.10"/><rect x="475.00" y="218.75" width="1.10" height="1.10"/><rect x="477.08" y="220.83" width="1.10" height="1.10"/><rect x="479.17" y="218.75" width="1.10" height="1.10"/><rect x="481.26" y="220.83" width="1.10" height="1.10"/><rect x="458.30" y="222.92" width="1.10" height="1.10"/><rect x="460.38" y="225.01" width="1.10" height="1.10"/><rect x="462.47" y="222.92" width="1.10" height="1.10"/><rect x="464.56" y="225.01" width="1.10" height="1.10"/><rect x="466.65" y="222.92" width="1.10" height="1.10"/><rect x="468.73" y="225.01" width="1.10" height="1.10"/><rect x="470.82" y="222.92" width="1.10" height="1.10"/><rect x="472.91" y="225.01" width="1.10" height="1.10"/><rect x="475.00" y="222.92" width="1.10" height="1.10"/><rect x="477.08" y="225.01" width="1.10" height="1.10"/><rect x="479.17" y="222.92" width="1.10" height="1.10"/><rect x="481.26" y="225.01" width="1.10" height="1.10"/><rect x="458.30" y="227.10" width="1.10" height="1.10"/><rect x="460.38" y="229.18" width="1.10" height="1.10"/><rect x="462.47" y="227.10" width="1.10" height="1.10"/><rect x="464.56" y="229.18" width="1.10" height="1.10"/><rect x="466.65" y="227.10" width="1.10" height="1.10"/><rect x="468.73" y="229.18" width="1.10" height="1.10"/><rect x="470.82" y="227.10" width="1.10" height="1.10"/><rect x="472.91" y="229.18" width="1.10" height="1.10"/><rect x="475.00" y="227.10" width="1.10" height="1.10"/><rect x="477.08" y="229.18" width="1.10" height="1.10"/><rect x="479.17" y="227.10" width="1.10" height="1.10"/><rect x="481.26" y="229.18" width="1.10" height="1.10"/><rect x="458.30" y="231.27" width="1.10" height="1.10"/><rect x="460.38" y="233.36" width="1.10" height="1.10"/><rect x="462.47" y="231.27" width="1.10" height="1.10"/><rect x="464.56" y="233.36" width="1.10" height="1.10"/><rect x="466.65" y="231.27" width="1.10" height="1.10"/><rect x="468.73" y="233.36" width="1.10" height="1.10"/><rect x="470.82" y="231.27" width="1.10" height="1.10"/><rect x="472.91" y="233.36" width="1.10" height="1.10"/><rect x="475.00" y="231.27" width="1.10" height="1.10"/><rect x="477.08" y="233.36" width="1.10" height="1.10"/><rect x="479.17" y="231.27" width="1.10" height="1.10"/><rect x="481.26" y="233.36" width="1.10" height="1.10"/><rect x="458.30" y="235.45" width="1.10" height="1.10"/><rect x="460.38" y="237.53" width="1.10" height="1.10"/><rect x="462.47" y="235.45" width="1.10" height="1.10"/><rect x="464.56" y="237.53" width="1.10" height="1.10"/><rect x="466.65" y="235.45" width="1.10" height="1.10"/><rect x="468.73" y="237.53" width="1.10" height="1.10"/><rect x="470.82" y="235.45" width="1.10" height="1.10"/><rect x="472.91" y="237.53" width="1.10" height="1.10"/><rect x="475.00" y="235.45" width="1.10" height="1.10"/><rect x="477.08" y="237.53" width="1.10" height="1.10"/><rect x="479.17" y="235.45" width="1.10" height="1.10"/><rect x="481.26" y="237.53" width="1.10" height="1.10"/><rect x="458.30" y="239.62" width="1.10" height="1.10"/><rect x="460.38" y="241.71" width="1.10" height="1.10"/><rect x="462.47" y="239.62" width="1.10" height="1.10"/><rect x="464.56" y="241.71" width="1.10" height="1.10"/><rect x="466.65" y="239.62" width="1.10" height="1.10"/><rect x="468.73" y="241.71" width="1.10" height="1.10"/><rect x="470.82" y="239.62" width="1.10" height="1.10"/><rect x="472.91" y="241.71" width="1.10" height="1.10"/><rect x="475.00" y="239.62" width="1.10" height="1.10"/><rect x="477.08" y="241.71" width="1.10" height="1.10"/><rect x="479.17" y="239.62" width="1.10" height="1.10"/><rect x="481.26" y="241.71" width="1.10" height="1.10"/><rect x="458.30" y="243.80" width="1.10" height="1.10"/><rect x="460.38" y="245.88" width="1.10" height="1.10"/><rect x="462.47" y="243.80" width="1.10" height="1.10"/><rect x="464.56" y="245.88" width="1.10" height="1.10"/><rect x="466.65" y="243.80" width="1.10" height="1.10"/><rect x="468.73" y="245.88" width="1.10" height="1.10"/><rect x="470.82" y="243.80" width="1.10" height="1.10"/><rect x="472.91" y="245.88" width="1.10" height="1.10"/><rect x="475.00" y="243.80" width="1.10" height="1.10"/><rect x="477.08" y="245.88" width="1.10" height="1.10"/><rect x="479.17" y="243.80" width="1.10" height="1.10"/><rect x="481.26" y="245.88" width="1.10" height="1.10"/><rect x="458.30" y="247.97" width="1.10" height="1.10"/><rect x="460.38" y="250.06" width="1.10" height="1.10"/><rect x="462.47" y="247.97" width="1.10" height="1.10"/><rect x="464.56" y="250.06" width="1.10" height="1.10"/><rect x="466.65" y="247.97" width="1.10" height="1.10"/><rect x="468.73" y="250.06" width="1.10" height="1.10"/><rect x="470.82" y="247.97" width="1.10" height="1.10"/><rect x="472.91" y="250.06" width="1.10" height="1.10"/><rect x="475.00" y="247.97" width="1.10" height="1.10"/><rect x="477.08" y="250.06" width="1.10" height="1.10"/><rect x="479.17" y="247.97" width="1.10" height="1.10"/><rect x="481.26" y="250.06" width="1.10" height="1.10"/></g><rect x="465.10" y="90.60" width="13.80" height="156.90" fill="none" stroke="#a6a6a6" stroke-width="0.9"/><clipPath id="c19"><rect x="478.90" y="100.30" width="13.80" height="147.20"/></clipPath><rect x="478.90" y="100.30" width="13.80" height="147.20" fill="#fff"/><g clip-path="url(#c19)" fill="#000"><path d="M312.35 98.30L463.55 249.50M320.70 98.30L471.90 249.50M329.05 98.30L480.25 249.50M337.40 98.30L488.60 249.50M345.75 98.30L496.95 249.50M354.10 98.30L505.30 249.50M362.45 98.30L513.65 249.50M370.80 98.30L522.00 249.50M379.15 98.30L530.35 249.50M387.50 98.30L538.70 249.50M395.85 98.30L547.05 249.50M404.20 98.30L555.40 249.50M412.55 98.30L563.75 249.50M420.90 98.30L572.10 249.50M429.25 98.30L580.45 249.50M437.60 98.30L588.80 249.50M445.95 98.30L597.15 249.50M454.30 98.30L605.50 249.50M462.65 98.30L613.85 249.50M471.00 98.30L622.20 249.50M479.35 98.30L630.55 249.50M487.70 98.30L638.90 249.50M496.05 98.30L647.25 249.50M504.40 98.30L655.60 249.50M464.75 98.30L313.55 249.50M473.10 98.30L321.90 249.50M481.45 98.30L330.25 249.50M489.80 98.30L338.60 249.50M498.15 98.30L346.95 249.50M506.50 98.30L355.30 249.50M514.85 98.30L363.65 249.50M523.20 98.30L372.00 249.50M531.55 98.30L380.35 249.50M539.90 98.30L388.70 249.50M548.25 98.30L397.05 249.50M556.60 98.30L405.40 249.50M564.95 98.30L413.75 249.50M573.30 98.30L422.10 249.50M581.65 98.30L430.45 249.50M590.00 98.30L438.80 249.50M598.35 98.30L447.15 249.50M606.70 98.30L455.50 249.50M615.05 98.30L463.85 249.50M623.40 98.30L472.20 249.50M631.75 98.30L480.55 249.50M640.10 98.30L488.90 249.50M648.45 98.30L497.25 249.50M656.80 98.30L505.60 249.50" stroke="#4a4a4a" stroke-width="1.1" fill="none"/></g><rect x="478.90" y="100.30" width="13.80" height="147.20" fill="none" stroke="#a6a6a6" stroke-width="0.9"/><clipPath id="c20"><rect x="492.70" y="38.80" width="13.80" height="208.70"/></clipPath><rect x="492.70" y="38.80" width="13.80" height="208.70" fill="#fff"/><g clip-path="url(#c20)" fill="#000"><path d="M476.20 24.95L479.89 28.65L476.20 32.34L472.50 28.65ZM484.55 24.95L488.24 28.65L484.55 32.34L480.85 28.65ZM492.90 24.95L496.59 28.65L492.90 32.34L489.20 28.65ZM501.25 24.95L504.94 28.65L501.25 32.34L497.55 28.65ZM509.60 24.95L513.29 28.65L509.60 32.34L505.90 28.65ZM517.95 24.95L521.64 28.65L517.95 32.34L514.25 28.65ZM476.20 33.30L479.89 37.00L476.20 40.69L472.50 37.00ZM484.55 33.30L488.24 37.00L484.55 40.69L480.85 37.00ZM492.90 33.30L496.59 37.00L492.90 40.69L489.20 37.00ZM501.25 33.30L504.94 37.00L501.25 40.69L497.55 37.00ZM509.60 33.30L513.29 37.00L509.60 40.69L505.90 37.00ZM517.95 33.30L521.64 37.00L517.95 40.69L514.25 37.00ZM476.20 41.65L479.89 45.35L476.20 49.04L472.50 45.35ZM484.55 41.65L488.24 45.35L484.55 49.04L480.85 45.35ZM492.90 41.65L496.59 45.35L492.90 49.04L489.20 45.35ZM501.25 41.65L504.94 45.35L501.25 49.04L497.55 45.35ZM509.60 41.65L513.29 45.35L509.60 49.04L505.90 45.35ZM517.95 41.65L521.64 45.35L517.95 49.04L514.25 45.35ZM476.20 50.00L479.89 53.70L476.20 57.39L472.50 53.70ZM484.55 50.00L488.24 53.70L484.55 57.39L480.85 53.70ZM492.90 50.00L496.59 53.70L492.90 57.39L489.20 53.70ZM501.25 50.00L504.94 53.70L501.25 57.39L497.55 53.70ZM509.60 50.00L513.29 53.70L509.60 57.39L505.90 53.70ZM517.95 50.00L521.64 53.70L517.95 57.39L514.25 53.70ZM476.20 58.35L479.89 62.05L476.20 65.74L472.50 62.05ZM484.55 58.35L488.24 62.05L484.55 65.74L480.85 62.05ZM492.90 58.35L496.59 62.05L492.90 65.74L489.20 62.05ZM501.25 58.35L504.94 62.05L501.25 65.74L497.55 62.05ZM509.60 58.35L513.29 62.05L509.60 65.74L505.90 62.05ZM517.95 58.35L521.64 62.05L517.95 65.74L514.25 62.05ZM476.20 66.70L479.89 70.40L476.20 74.09L472.50 70.40ZM484.55 66.70L488.24 70.40L484.55 74.09L480.85 70.40ZM492.90 66.70L496.59 70.40L492.90 74.09L489.20 70.40ZM501.25 66.70L504.94 70.40L501.25 74.09L497.55 70.40ZM509.60 66.70L513.29 70.40L509.60 74.09L505.90 70.40ZM517.95 66.70L521.64 70.40L517.95 74.09L514.25 70.40ZM476.20 75.05L479.89 78.75L476.20 82.44L472.50 78.75ZM484.55 75.05L488.24 78.75L484.55 82.44L480.85 78.75ZM492.90 75.05L496.59 78.75L492.90 82.44L489.20 78.75ZM501.25 75.05L504.94 78.75L501.25 82.44L497.55 78.75ZM509.60 75.05L513.29 78.75L509.60 82.44L505.90 78.75ZM517.95 75.05L521.64 78.75L517.95 82.44L514.25 78.75ZM476.20 83.40L479.89 87.10L476.20 90.79L472.50 87.10ZM484.55 83.40L488.24 87.10L484.55 90.79L480.85 87.10ZM492.90 83.40L496.59 87.10L492.90 90.79L489.20 87.10ZM501.25 83.40L504.94 87.10L501.25 90.79L497.55 87.10ZM509.60 83.40L513.29 87.10L509.60 90.79L505.90 87.10ZM517.95 83.40L521.64 87.10L517.95 90.79L514.25 87.10ZM476.20 91.75L479.89 95.45L476.20 99.14L472.50 95.45ZM484.55 91.75L488.24 95.45L484.55 99.14L480.85 95.45ZM492.90 91.75L496.59 95.45L492.90 99.14L489.20 95.45ZM501.25 91.75L504.94 95.45L501.25 99.14L497.55 95.45ZM509.60 91.75L513.29 95.45L509.60 99.14L505.90 95.45ZM517.95 91.75L521.64 95.45L517.95 99.14L514.25 95.45ZM476.20 100.10L479.89 103.80L476.20 107.49L472.50 103.80ZM484.55 100.10L488.24 103.80L484.55 107.49L480.85 103.80ZM492.90 100.10L496.59 103.80L492.90 107.49L489.20 103.80ZM501.25 100.10L504.94 103.80L501.25 107.49L497.55 103.80ZM509.60 100.10L513.29 103.80L509.60 107.49L505.90 103.80ZM517.95 100.10L521.64 103.80L517.95 107.49L514.25 103.80ZM476.20 108.45L479.89 112.15L476.20 115.84L472.50 112.15ZM484.55 108.45L488.24 112.15L484.55 115.84L480.85 112.15ZM492.90 108.45L496.59 112.15L492.90 115.84L489.20 112.15ZM501.25 108.45L504.94 112.15L501.25 115.84L497.55 112.15ZM509.60 108.45L513.29 112.15L509.60 115.84L505.90 112.15ZM517.95 108.45L521.64 112.15L517.95 115.84L514.25 112.15ZM476.20 116.80L479.89 120.50L476.20 124.19L472.50 120.50ZM484.55 116.80L488.24 120.50L484.55 124.19L480.85 120.50ZM492.90 116.80L496.59 120.50L492.90 124.19L489.20 120.50ZM501.25 116.80L504.94 120.50L501.25 124.19L497.55 120.50ZM509.60 116.80L513.29 120.50L509.60 124.19L505.90 120.50ZM517.95 116.80L521.64 120.50L517.95 124.19L514.25 120.50ZM476.20 125.15L479.89 128.85L476.20 132.54L472.50 128.85ZM484.55 125.15L488.24 128.85L484.55 132.54L480.85 128.85ZM492.90 125.15L496.59 128.85L492.90 132.54L489.20 128.85ZM501.25 125.15L504.94 128.85L501.25 132.54L497.55 128.85ZM509.60 125.15L513.29 128.85L509.60 132.54L505.90 128.85ZM517.95 125.15L521.64 128.85L517.95 132.54L514.25 128.85ZM476.20 133.50L479.89 137.20L476.20 140.89L472.50 137.20ZM484.55 133.50L488.24 137.20L484.55 140.89L480.85 137.20ZM492.90 133.50L496.59 137.20L492.90 140.89L489.20 137.20ZM501.25 133.50L504.94 137.20L501.25 140.89L497.55 137.20ZM509.60 133.50L513.29 137.20L509.60 140.89L505.90 137.20ZM517.95 133.50L521.64 137.20L517.95 140.89L514.25 137.20ZM476.20 141.85L479.89 145.55L476.20 149.24L472.50 145.55ZM484.55 141.85L488.24 145.55L484.55 149.24L480.85 145.55ZM492.90 141.85L496.59 145.55L492.90 149.24L489.20 145.55ZM501.25 141.85L504.94 145.55L501.25 149.24L497.55 145.55ZM509.60 141.85L513.29 145.55L509.60 149.24L505.90 145.55ZM517.95 141.85L521.64 145.55L517.95 149.24L514.25 145.55ZM476.20 150.20L479.89 153.90L476.20 157.59L472.50 153.90ZM484.55 150.20L488.24 153.90L484.55 157.59L480.85 153.90ZM492.90 150.20L496.59 153.90L492.90 157.59L489.20 153.90ZM501.25 150.20L504.94 153.90L501.25 157.59L497.55 153.90ZM509.60 150.20L513.29 153.90L509.60 157.59L505.90 153.90ZM517.95 150.20L521.64 153.90L517.95 157.59L514.25 153.90ZM476.20 158.55L479.89 162.25L476.20 165.94L472.50 162.25ZM484.55 158.55L488.24 162.25L484.55 165.94L480.85 162.25ZM492.90 158.55L496.59 162.25L492.90 165.94L489.20 162.25ZM501.25 158.55L504.94 162.25L501.25 165.94L497.55 162.25ZM509.60 158.55L513.29 162.25L509.60 165.94L505.90 162.25ZM517.95 158.55L521.64 162.25L517.95 165.94L514.25 162.25ZM476.20 166.90L479.89 170.60L476.20 174.29L472.50 170.60ZM484.55 166.90L488.24 170.60L484.55 174.29L480.85 170.60ZM492.90 166.90L496.59 170.60L492.90 174.29L489.20 170.60ZM501.25 166.90L504.94 170.60L501.25 174.29L497.55 170.60ZM509.60 166.90L513.29 170.60L509.60 174.29L505.90 170.60ZM517.95 166.90L521.64 170.60L517.95 174.29L514.25 170.60ZM476.20 175.25L479.89 178.95L476.20 182.64L472.50 178.95ZM484.55 175.25L488.24 178.95L484.55 182.64L480.85 178.95ZM492.90 175.25L496.59 178.95L492.90 182.64L489.20 178.95ZM501.25 175.25L504.94 178.95L501.25 182.64L497.55 178.95ZM509.60 175.25L513.29 178.95L509.60 182.64L505.90 178.95ZM517.95 175.25L521.64 178.95L517.95 182.64L514.25 178.95ZM476.20 183.60L479.89 187.30L476.20 190.99L472.50 187.30ZM484.55 183.60L488.24 187.30L484.55 190.99L480.85 187.30ZM492.90 183.60L496.59 187.30L492.90 190.99L489.20 187.30ZM501.25 183.60L504.94 187.30L501.25 190.99L497.55 187.30ZM509.60 183.60L513.29 187.30L509.60 190.99L505.90 187.30ZM517.95 183.60L521.64 187.30L517.95 190.99L514.25 187.30ZM476.20 191.95L479.89 195.65L476.20 199.34L472.50 195.65ZM484.55 191.95L488.24 195.65L484.55 199.34L480.85 195.65ZM492.90 191.95L496.59 195.65L492.90 199.34L489.20 195.65ZM501.25 191.95L504.94 195.65L501.25 199.34L497.55 195.65ZM509.60 191.95L513.29 195.65L509.60 199.34L505.90 195.65ZM517.95 191.95L521.64 195.65L517.95 199.34L514.25 195.65ZM476.20 200.30L479.89 204.00L476.20 207.69L472.50 204.00ZM484.55 200.30L488.24 204.00L484.55 207.69L480.85 204.00ZM492.90 200.30L496.59 204.00L492.90 207.69L489.20 204.00ZM501.25 200.30L504.94 204.00L501.25 207.69L497.55 204.00ZM509.60 200.30L513.29 204.00L509.60 207.69L505.90 204.00ZM517.95 200.30L521.64 204.00L517.95 207.69L514.25 204.00ZM476.20 208.65L479.89 212.35L476.20 216.04L472.50 212.35ZM484.55 208.65L488.24 212.35L484.55 216.04L480.85 212.35ZM492.90 208.65L496.59 212.35L492.90 216.04L489.20 212.35ZM501.25 208.65L504.94 212.35L501.25 216.04L497.55 212.35ZM509.60 208.65L513.29 212.35L509.60 216.04L505.90 212.35ZM517.95 208.65L521.64 212.35L517.95 216.04L514.25 212.35ZM476.20 217.00L479.89 220.70L476.20 224.39L472.50 220.70ZM484.55 217.00L488.24 220.70L484.55 224.39L480.85 220.70ZM492.90 217.00L496.59 220.70L492.90 224.39L489.20 220.70ZM501.25 217.00L504.94 220.70L501.25 224.39L497.55 220.70ZM509.60 217.00L513.29 220.70L509.60 224.39L505.90 220.70ZM517.95 217.00L521.64 220.70L517.95 224.39L514.25 220.70ZM476.20 225.35L479.89 229.05L476.20 232.74L472.50 229.05ZM484.55 225.35L488.24 229.05L484.55 232.74L480.85 229.05ZM492.90 225.35L496.59 229.05L492.90 232.74L489.20 229.05ZM501.25 225.35L504.94 229.05L501.25 232.74L497.55 229.05ZM509.60 225.35L513.29 229.05L509.60 232.74L505.90 229.05ZM517.95 225.35L521.64 229.05L517.95 232.74L514.25 229.05ZM476.20 233.70L479.89 237.40L476.20 241.09L472.50 237.40ZM484.55 233.70L488.24 237.40L484.55 241.09L480.85 237.40ZM492.90 233.70L496.59 237.40L492.90 241.09L489.20 237.40ZM501.25 233.70L504.94 237.40L501.25 241.09L497.55 237.40ZM509.60 233.70L513.29 237.40L509.60 241.09L505.90 237.40ZM517.95 233.70L521.64 237.40L517.95 241.09L514.25 237.40ZM476.20 242.05L479.89 245.75L476.20 249.44L472.50 245.75ZM484.55 242.05L488.24 245.75L484.55 249.44L480.85 245.75ZM492.90 242.05L496.59 245.75L492.90 249.44L489.20 245.75ZM501.25 242.05L504.94 245.75L501.25 249.44L497.55 245.75ZM509.60 242.05L513.29 245.75L509.60 249.44L505.90 245.75ZM517.95 242.05L521.64 245.75L517.95 249.44L514.25 245.75ZM476.20 250.40L479.89 254.10L476.20 257.79L472.50 254.10ZM484.55 250.40L488.24 254.10L484.55 257.79L480.85 254.10ZM492.90 250.40L496.59 254.10L492.90 257.79L489.20 254.10ZM501.25 250.40L504.94 254.10L501.25 257.79L497.55 254.10ZM509.60 250.40L513.29 254.10L509.60 257.79L505.90 254.10ZM517.95 250.40L521.64 254.10L517.95 257.79L514.25 254.10ZM476.20 258.75L479.89 262.45L476.20 266.14L472.50 262.45ZM484.55 258.75L488.24 262.45L484.55 266.14L480.85 262.45ZM492.90 258.75L496.59 262.45L492.90 266.14L489.20 262.45ZM501.25 258.75L504.94 262.45L501.25 266.14L497.55 262.45ZM509.60 258.75L513.29 262.45L509.60 266.14L505.90 262.45ZM517.95 258.75L521.64 262.45L517.95 266.14L514.25 262.45Z"/></g><rect x="492.70" y="38.80" width="13.80" height="208.70" fill="none" stroke="#a6a6a6" stroke-width="0.9"/>
<text x="18.09" y="251.60" font-size="12" fill="#595959" stroke="#595959" stroke-width="0.25" textLength="17.06" lengthAdjust="spacingAndGlyphs">0.0</text><text x="18.08" y="221.20" font-size="12" fill="#595959" stroke="#595959" stroke-width="0.25" textLength="17.33" lengthAdjust="spacingAndGlyphs">0.2</text><text x="18.09" y="190.80" font-size="12" fill="#595959" stroke="#595959" stroke-width="0.25" textLength="17.06" lengthAdjust="spacingAndGlyphs">0.4</text><text x="18.09" y="160.40" font-size="12" fill="#595959" stroke="#595959" stroke-width="0.25" textLength="17.06" lengthAdjust="spacingAndGlyphs">0.6</text><text x="18.09" y="130.00" font-size="12" fill="#595959" stroke="#595959" stroke-width="0.25" textLength="17.06" lengthAdjust="spacingAndGlyphs">0.8</text><text x="17.54" y="99.60" font-size="12" fill="#595959" stroke="#595959" stroke-width="0.25" textLength="17.62" lengthAdjust="spacingAndGlyphs">1.0</text><text x="17.53" y="69.20" font-size="12" fill="#595959" stroke="#595959" stroke-width="0.25" textLength="17.91" lengthAdjust="spacingAndGlyphs">1.2</text><text x="17.54" y="38.80" font-size="12" fill="#595959" stroke="#595959" stroke-width="0.25" textLength="17.62" lengthAdjust="spacingAndGlyphs">1.4</text><text x="17.54" y="8.40" font-size="12" fill="#595959" stroke="#595959" stroke-width="0.25" textLength="17.62" lengthAdjust="spacingAndGlyphs">1.6</text><text x="60.31" y="268.20" font-size="11.7" fill="#000" stroke="#000" stroke-width="0.25" textLength="90.65" lengthAdjust="spacingAndGlyphs">7.5 mm W/Ni/Cu</text><text x="200.38" y="268.20" font-size="11.7" fill="#000" stroke="#000" stroke-width="0.25" textLength="45.28" lengthAdjust="spacingAndGlyphs">9 mm W</text><text x="314.46" y="268.20" font-size="11.7" fill="#000" stroke="#000" stroke-width="0.25" textLength="52.00" lengthAdjust="spacingAndGlyphs">14 mm W</text><text x="436.86" y="268.20" font-size="11.7" fill="#000" stroke="#000" stroke-width="0.25" textLength="42.35" lengthAdjust="spacingAndGlyphs">4mm LE</text><text x="99.71" y="23.10" font-size="12.5" fill="#000" stroke="#000" stroke-width="0.25" textLength="29.53" lengthAdjust="spacingAndGlyphs">64Cu</text><text x="155.00" y="23.10" font-size="12.5" fill="#000" stroke="#000" stroke-width="0.25" textLength="21.55" lengthAdjust="spacingAndGlyphs">18F</text><text x="202.34" y="23.10" font-size="12.5" fill="#000" stroke="#000" stroke-width="0.25" textLength="23.41" lengthAdjust="spacingAndGlyphs">11C</text><text x="250.74" y="23.10" font-size="12.5" fill="#000" stroke="#000" stroke-width="0.25" textLength="24.25" lengthAdjust="spacingAndGlyphs">13N</text><text x="300.64" y="23.10" font-size="12.5" fill="#000" stroke="#000" stroke-width="0.25" textLength="25.15" lengthAdjust="spacingAndGlyphs">15O</text><text x="351.41" y="23.10" font-size="12.5" fill="#000" stroke="#000" stroke-width="0.25" textLength="29.78" lengthAdjust="spacingAndGlyphs">68Ga</text><text x="408.09" y="23.10" font-size="12.5" fill="#000" stroke="#000" stroke-width="0.25" textLength="26.11" lengthAdjust="spacingAndGlyphs">89Zr</text>

<rect x="87.90" y="14.85" width="8.00" height="8.00" fill="#000000"/><clipPath id="c21"><rect x="143.30" y="14.60" width="8.00" height="8.00"/></clipPath><rect x="143.30" y="14.60" width="8.00" height="8.00" fill="#fff"/><g clip-path="url(#c21)" fill="#000"><path d="M126.21 12.60L138.21 24.60M130.39 12.60L142.39 24.60M134.56 12.60L146.56 24.60M138.74 12.60L150.74 24.60M142.91 12.60L154.91 24.60M147.09 12.60L159.09 24.60M151.26 12.60L163.26 24.60M155.44 12.60L167.44 24.60" stroke="#555" stroke-width="1.00" fill="none"/></g><rect x="143.30" y="14.60" width="8.00" height="8.00" fill="none" stroke="#a6a6a6" stroke-width="0.9"/><rect x="190.50" y="14.30" width="9.00" height="8.90" fill="#a5a5a5"/><clipPath id="c22"><rect x="239.30" y="14.60" width="8.00" height="8.00"/></clipPath><rect x="239.30" y="14.60" width="8.00" height="8.00" fill="#fff"/><g clip-path="url(#c22)" fill="#000"><rect x="239.30" y="8.18" width="8.00" height="2.08"/><rect x="239.30" y="12.36" width="8.00" height="2.08"/><rect x="239.30" y="16.53" width="8.00" height="2.08"/><rect x="239.30" y="20.71" width="8.00" height="2.08"/><rect x="239.30" y="24.88" width="8.00" height="2.08"/></g><rect x="239.30" y="14.60" width="8.00" height="8.00" fill="none" stroke="#a6a6a6" stroke-width="0.9"/><clipPath id="c23"><rect x="289.30" y="14.60" width="8.00" height="8.00"/></clipPath><rect x="289.30" y="14.60" width="8.00" height="8.00" fill="#fff"/><g clip-path="url(#c23)" fill="#000"><rect x="282.95" y="10.00" width="1.10" height="1.10"/><rect x="285.03" y="12.08" width="1.10" height="1.10"/><rect x="287.12" y="10.00" width="1.10" height="1.10"/><rect x="289.21" y="12.08" width="1.10" height="1.10"/><rect x="291.30" y="10.00" width="1.10" height="1.10"/><rect x="293.38" y="12.08" width="1.10" height="1.10"/><rect x="295.47" y="10.00" width="1.10" height="1.10"/><rect x="297.56" y="12.08" width="1.10" height="1.10"/><rect x="299.65" y="10.00" width="1.10" height="1.10"/><rect x="301.73" y="12.08" width="1.10" height="1.10"/><rect x="282.95" y="14.17" width="1.10" height="1.10"/><rect x="285.03" y="16.26" width="1.10" height="1.10"/><rect x="287.12" y="14.17" width="1.10" height="1.10"/><rect x="289.21" y="16.26" width="1.10" height="1.10"/><rect x="291.30" y="14.17" width="1.10" height="1.10"/><rect x="293.38" y="16.26" width="1.10" height="1.10"/><rect x="295.47" y="14.17" width="1.10" height="1.10"/><rect x="297.56" y="16.26" width="1.10" height="1.10"/><rect x="299.65" y="14.17" width="1.10" height="1.10"/><rect x="301.73" y="16.26" width="1.10" height="1.10"/><rect x="282.95" y="18.35" width="1.10" height="1.10"/><rect x="285.03" y="20.43" width="1.10" height="1.10"/><rect x="287.12" y="18.35" width="1.10" height="1.10"/><rect x="289.21" y="20.43" width="1.10" height="1.10"/><rect x="291.30" y="18.35" width="1.10" height="1.10"/><rect x="293.38" y="20.43" width="1.10" height="1.10"/><rect x="295.47" y="18.35" width="1.10" height="1.10"/><rect x="297.56" y="20.43" width="1.10" height="1.10"/><rect x="299.65" y="18.35" width="1.10" height="1.10"/><rect x="301.73" y="20.43" width="1.10" height="1.10"/><rect x="282.95" y="22.52" width="1.10" height="1.10"/><rect x="285.03" y="24.61" width="1.10" height="1.10"/><rect x="287.12" y="22.52" width="1.10" height="1.10"/><rect x="289.21" y="24.61" width="1.10" height="1.10"/><rect x="291.30" y="22.52" width="1.10" height="1.10"/><rect x="293.38" y="24.61" width="1.10" height="1.10"/><rect x="295.47" y="22.52" width="1.10" height="1.10"/><rect x="297.56" y="24.61" width="1.10" height="1.10"/><rect x="299.65" y="22.52" width="1.10" height="1.10"/><rect x="301.73" y="24.61" width="1.10" height="1.10"/><rect x="282.95" y="26.70" width="1.10" height="1.10"/><rect x="285.03" y="28.78" width="1.10" height="1.10"/><rect x="287.12" y="26.70" width="1.10" height="1.10"/><rect x="289.21" y="28.78" width="1.10" height="1.10"/><rect x="291.30" y="26.70" width="1.10" height="1.10"/><rect x="293.38" y="28.78" width="1.10" height="1.10"/><rect x="295.47" y="26.70" width="1.10" height="1.10"/><rect x="297.56" y="28.78" width="1.10" height="1.10"/><rect x="299.65" y="26.70" width="1.10" height="1.10"/><rect x="301.73" y="28.78" width="1.10" height="1.10"/></g><rect x="289.30" y="14.60" width="8.00" height="8.00" fill="none" stroke="#a6a6a6" stroke-width="0.9"/><clipPath id="c24"><rect x="339.00" y="14.60" width="8.00" height="8.00"/></clipPath><rect x="339.00" y="14.60" width="8.00" height="8.00" fill="#fff"/><g clip-path="url(#c24)" fill="#000"><path d="M318.50 12.60L330.50 24.60M326.85 12.60L338.85 24.60M335.20 12.60L347.20 24.60M343.55 12.60L355.55 24.60M351.90 12.60L363.90 24.60M360.25 12.60L372.25 24.60M325.00 12.60L313.00 24.60M333.35 12.60L321.35 24.60M341.70 12.60L329.70 24.60M350.05 12.60L338.05 24.60M358.40 12.60L346.40 24.60M366.75 12.60L354.75 24.60M375.10 12.60L363.10 24.60" stroke="#4a4a4a" stroke-width="1.1" fill="none"/></g><rect x="339.00" y="14.60" width="8.00" height="8.00" fill="none" stroke="#a6a6a6" stroke-width="0.9"/><clipPath id="c25"><rect x="396.30" y="14.60" width="8.00" height="8.00"/></clipPath><rect x="396.30" y="14.60" width="8.00" height="8.00" fill="#fff"/><g clip-path="url(#c25)" fill="#000"><path d="M384.35 -0.09L388.04 3.60L384.35 7.29L380.65 3.60ZM392.70 -0.09L396.39 3.60L392.70 7.29L389.00 3.60ZM401.05 -0.09L404.74 3.60L401.05 7.29L397.35 3.60ZM409.40 -0.09L413.09 3.60L409.40 7.29L405.70 3.60ZM417.75 -0.09L421.44 3.60L417.75 7.29L414.05 3.60ZM384.35 8.25L388.04 11.95L384.35 15.64L380.65 11.95ZM392.70 8.25L396.39 11.95L392.70 15.64L389.00 11.95ZM401.05 8.25L404.74 11.95L401.05 15.64L397.35 11.95ZM409.40 8.25L413.09 11.95L409.40 15.64L405.70 11.95ZM417.75 8.25L421.44 11.95L417.75 15.64L414.05 11.95ZM384.35 16.60L388.04 20.30L384.35 23.99L380.65 20.30ZM392.70 16.60L396.39 20.30L392.70 23.99L389.00 20.30ZM401.05 16.60L404.74 20.30L401.05 23.99L397.35 20.30ZM409.40 16.60L413.09 20.30L409.40 23.99L405.70 20.30ZM417.75 16.60L421.44 20.30L417.75 23.99L414.05 20.30ZM384.35 24.95L388.04 28.65L384.35 32.34L380.65 28.65ZM392.70 24.95L396.39 28.65L392.70 32.34L389.00 28.65ZM401.05 24.95L404.74 28.65L401.05 32.34L397.35 28.65ZM409.40 24.95L413.09 28.65L409.40 32.34L405.70 28.65ZM417.75 24.95L421.44 28.65L417.75 32.34L414.05 28.65ZM384.35 33.30L388.04 37.00L384.35 40.69L380.65 37.00ZM392.70 33.30L396.39 37.00L392.70 40.69L389.00 37.00ZM401.05 33.30L404.74 37.00L401.05 40.69L397.35 37.00ZM409.40 33.30L413.09 37.00L409.40 40.69L405.70 37.00ZM417.75 33.30L421.44 37.00L417.75 40.69L414.05 37.00Z"/></g><rect x="396.30" y="14.60" width="8.00" height="8.00" fill="none" stroke="#a6a6a6" stroke-width="0.9"/>
<text transform="translate(10.4,214.80) rotate(-90)" font-size="13" fill="#000" stroke="#000" stroke-width="0.25" textLength="95.92" lengthAdjust="spacingAndGlyphs">Hp(10) @ 30 cm</text><text transform="translate(10.4,116.73) rotate(-90)" font-size="13" fill="#000" stroke="#000" stroke-width="0.25" textLength="29.84" lengthAdjust="spacingAndGlyphs">(µSv/</text><text transform="translate(10.4,87.08) rotate(-90)" font-size="13" fill="#000" stroke="#000" stroke-width="0.25" textLength="49.77" lengthAdjust="spacingAndGlyphs">MBq.hr)</text>
</svg>
</body></html>
